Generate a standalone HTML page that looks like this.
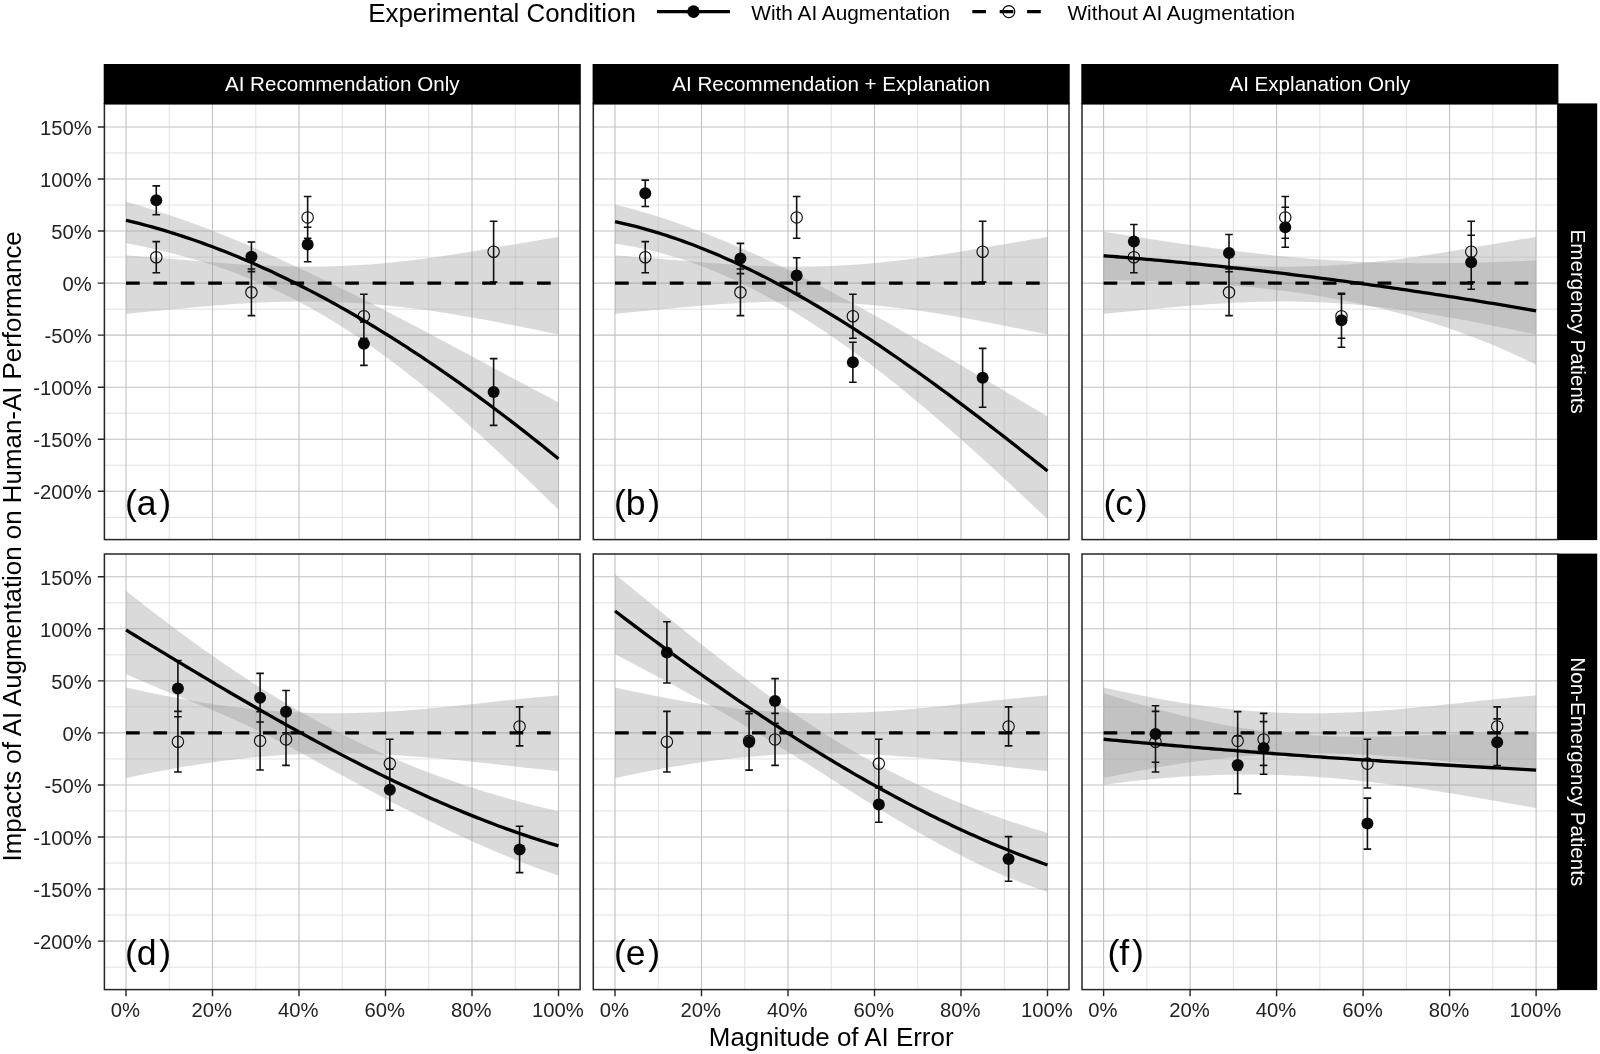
<!DOCTYPE html>
<html lang="en">
<head>
<meta charset="utf-8">
<title>Impacts of AI Augmentation on Human-AI Performance</title>
<style>
html,body{margin:0;padding:0;background:#ffffff;}
body{width:1600px;height:1054px;overflow:hidden;font-family:"Liberation Sans",sans-serif;}
svg{display:block;will-change:transform;font-family:"Liberation Sans",sans-serif;}
svg text{font-family:"Liberation Sans",sans-serif;}
</style>
</head>
<body>
<svg width="1600" height="1054" viewBox="0 0 1600 1054">
<rect x="0" y="0" width="1600" height="1054" fill="#ffffff"/>
<g>
<clipPath id="cpa"><rect x="104.4" y="103.8" width="475.7" height="435.8"/></clipPath>
<rect x="104.4" y="103.8" width="475.7" height="435.8" fill="#ffffff"/>
<path d="M169.25 103.8V539.6M255.75 103.8V539.6M342.25 103.8V539.6M428.75 103.8V539.6M515.25 103.8V539.6M104.4 152.96H580.1M104.4 205.02H580.1M104.4 257.07H580.1M104.4 309.13H580.1M104.4 361.18H580.1M104.4 413.24H580.1M104.4 465.29H580.1M104.4 517.35H580.1" stroke="#dedede" stroke-width="0.9" fill="none"/>
<path d="M126 103.8V539.6M212.5 103.8V539.6M299 103.8V539.6M385.5 103.8V539.6M472 103.8V539.6M558.5 103.8V539.6M104.4 126.94H580.1M104.4 178.99H580.1M104.4 231.05H580.1M104.4 283.1H580.1M104.4 335.16H580.1M104.4 387.21H580.1M104.4 439.26H580.1M104.4 491.32H580.1" stroke="#c2c2c2" stroke-width="1.1" fill="none"/>
<path d="M126 255.53 L130.32 255.78 L134.65 256.05 L138.97 256.33 L143.3 256.63 L147.62 256.95 L151.95 257.27 L156.28 257.6 L160.6 257.95 L164.93 258.3 L169.25 258.66 L173.57 259.02 L177.9 259.38 L182.22 259.75 L186.55 260.12 L190.88 260.48 L195.2 260.85 L199.53 261.21 L203.85 261.57 L208.18 261.92 L212.5 262.27 L216.82 262.61 L221.15 262.95 L225.48 263.27 L229.8 263.58 L234.12 263.88 L238.45 264.17 L242.78 264.45 L247.1 264.72 L251.43 264.97 L255.75 265.2 L260.08 265.42 L264.4 265.63 L268.73 265.81 L273.05 265.98 L277.38 266.13 L281.7 266.26 L286.02 266.38 L290.35 266.47 L294.68 266.55 L299 266.6 L303.33 266.63 L307.65 266.64 L311.98 266.63 L316.3 266.6 L320.62 266.55 L324.95 266.47 L329.27 266.37 L333.6 266.25 L337.93 266.11 L342.25 265.95 L346.58 265.76 L350.9 265.55 L355.23 265.31 L359.55 265.06 L363.88 264.78 L368.2 264.48 L372.52 264.16 L376.85 263.81 L381.18 263.45 L385.5 263.06 L389.82 262.65 L394.15 262.22 L398.48 261.77 L402.8 261.3 L407.12 260.81 L411.45 260.3 L415.78 259.78 L420.1 259.23 L424.43 258.67 L428.75 258.09 L433.07 257.49 L437.4 256.88 L441.73 256.25 L446.05 255.61 L450.38 254.96 L454.7 254.29 L459.03 253.61 L463.35 252.92 L467.68 252.22 L472 251.51 L476.32 250.79 L480.65 250.07 L484.98 249.33 L489.3 248.6 L493.62 247.86 L497.95 247.11 L502.28 246.37 L506.6 245.62 L510.93 244.88 L515.25 244.13 L519.58 243.39 L523.9 242.66 L528.23 241.93 L532.55 241.2 L536.88 240.49 L541.2 239.79 L545.53 239.09 L549.85 238.41 L554.17 237.75 L558.5 237.1 L558.5 334.37 L554.17 333.5 L549.85 332.63 L545.53 331.75 L541.2 330.88 L536.88 330 L532.55 329.12 L528.23 328.25 L523.9 327.38 L519.58 326.51 L515.25 325.64 L510.93 324.79 L506.6 323.93 L502.28 323.09 L497.95 322.25 L493.62 321.42 L489.3 320.6 L484.98 319.79 L480.65 318.99 L476.32 318.2 L472 317.43 L467.68 316.66 L463.35 315.92 L459.03 315.18 L454.7 314.46 L450.38 313.76 L446.05 313.07 L441.73 312.4 L437.4 311.74 L433.07 311.1 L428.75 310.48 L424.43 309.88 L420.1 309.3 L415.78 308.74 L411.45 308.19 L407.12 307.67 L402.8 307.16 L398.48 306.68 L394.15 306.22 L389.82 305.78 L385.5 305.36 L381.18 304.96 L376.85 304.58 L372.52 304.22 L368.2 303.89 L363.88 303.58 L359.55 303.29 L355.23 303.02 L350.9 302.77 L346.58 302.55 L342.25 302.35 L337.93 302.17 L333.6 302.01 L329.27 301.88 L324.95 301.77 L320.62 301.68 L316.3 301.61 L311.98 301.56 L307.65 301.53 L303.33 301.53 L299 301.54 L294.68 301.58 L290.35 301.64 L286.02 301.71 L281.7 301.81 L277.38 301.93 L273.05 302.06 L268.73 302.22 L264.4 302.39 L260.08 302.58 L255.75 302.79 L251.43 303.01 L247.1 303.25 L242.78 303.51 L238.45 303.78 L234.12 304.06 L229.8 304.36 L225.48 304.68 L221.15 305 L216.82 305.34 L212.5 305.69 L208.18 306.05 L203.85 306.42 L199.53 306.8 L195.2 307.19 L190.88 307.59 L186.55 307.99 L182.22 308.4 L177.9 308.81 L173.57 309.23 L169.25 309.65 L164.93 310.07 L160.6 310.49 L156.28 310.92 L151.95 311.34 L147.62 311.76 L143.3 312.18 L138.97 312.6 L134.65 313.01 L130.32 313.41 L126 313.81Z" fill="#999999" fill-opacity="0.36"/>
<path d="M126 201.8 L130.32 203.01 L134.65 204.25 L138.97 205.52 L143.3 206.81 L147.62 208.13 L151.95 209.48 L156.28 210.84 L160.6 212.24 L164.93 213.66 L169.25 215.1 L173.57 216.57 L177.9 218.06 L182.22 219.57 L186.55 221.11 L190.88 222.66 L195.2 224.24 L199.53 225.85 L203.85 227.47 L208.18 229.12 L212.5 230.78 L216.82 232.47 L221.15 234.17 L225.48 235.9 L229.8 237.65 L234.12 239.41 L238.45 241.19 L242.78 243 L247.1 244.82 L251.43 246.65 L255.75 248.51 L260.08 250.38 L264.4 252.27 L268.73 254.18 L273.05 256.1 L277.38 258.04 L281.7 259.99 L286.02 261.96 L290.35 263.95 L294.68 265.95 L299 267.96 L303.33 269.99 L307.65 272.03 L311.98 274.08 L316.3 276.15 L320.62 278.23 L324.95 280.32 L329.27 282.42 L333.6 284.54 L337.93 286.66 L342.25 288.8 L346.58 290.95 L350.9 293.11 L355.23 295.27 L359.55 297.45 L363.88 299.64 L368.2 301.84 L372.52 304.04 L376.85 306.25 L381.18 308.48 L385.5 310.7 L389.82 312.94 L394.15 315.18 L398.48 317.43 L402.8 319.69 L407.12 321.95 L411.45 324.22 L415.78 326.49 L420.1 328.77 L424.43 331.06 L428.75 333.34 L433.07 335.64 L437.4 337.93 L441.73 340.23 L446.05 342.53 L450.38 344.84 L454.7 347.14 L459.03 349.45 L463.35 351.77 L467.68 354.08 L472 356.39 L476.32 358.71 L480.65 361.02 L484.98 363.34 L489.3 365.65 L493.62 367.97 L497.95 370.28 L502.28 372.59 L506.6 374.9 L510.93 377.21 L515.25 379.52 L519.58 381.82 L523.9 384.12 L528.23 386.42 L532.55 388.72 L536.88 391.01 L541.2 393.29 L545.53 395.58 L549.85 397.85 L554.17 400.13 L558.5 402.39 L558.5 509.55 L554.17 505.34 L549.85 501.13 L545.53 496.92 L541.2 492.73 L536.88 488.55 L532.55 484.38 L528.23 480.22 L523.9 476.08 L519.58 471.95 L515.25 467.83 L510.93 463.73 L506.6 459.66 L502.28 455.59 L497.95 451.55 L493.62 447.53 L489.3 443.53 L484.98 439.56 L480.65 435.61 L476.32 431.68 L472 427.78 L467.68 423.9 L463.35 420.06 L459.03 416.24 L454.7 412.45 L450.38 408.69 L446.05 404.96 L441.73 401.27 L437.4 397.61 L433.07 393.98 L428.75 390.39 L424.43 386.84 L420.1 383.32 L415.78 379.84 L411.45 376.4 L407.12 373 L402.8 369.63 L398.48 366.31 L394.15 363.02 L389.82 359.78 L385.5 356.57 L381.18 353.41 L376.85 350.29 L372.52 347.22 L368.2 344.18 L363.88 341.19 L359.55 338.25 L355.23 335.34 L350.9 332.49 L346.58 329.68 L342.25 326.91 L337.93 324.2 L333.6 321.53 L329.27 318.9 L324.95 316.33 L320.62 313.79 L316.3 311.31 L311.98 308.87 L307.65 306.48 L303.33 304.13 L299 301.83 L294.68 299.57 L290.35 297.36 L286.02 295.2 L281.7 293.08 L277.38 291 L273.05 288.97 L268.73 286.98 L264.4 285.04 L260.08 283.15 L255.75 281.3 L251.43 279.49 L247.1 277.72 L242.78 276 L238.45 274.32 L234.12 272.68 L229.8 271.09 L225.48 269.53 L221.15 268.01 L216.82 266.53 L212.5 265.09 L208.18 263.68 L203.85 262.31 L199.53 260.98 L195.2 259.68 L190.88 258.42 L186.55 257.19 L182.22 255.99 L177.9 254.82 L173.57 253.69 L169.25 252.58 L164.93 251.51 L160.6 250.46 L156.28 249.44 L151.95 248.46 L147.62 247.49 L143.3 246.56 L138.97 245.65 L134.65 244.76 L130.32 243.9 L126 243.06Z" fill="#999999" fill-opacity="0.36"/>
<path d="M156.28 241.6V272.8M152.47 241.6H160.08M152.47 272.8H160.08M251.43 269V315.6M247.62 269H255.23M247.62 315.6H255.23M307.65 196.5V238.3M303.85 196.5H311.45M303.85 238.3H311.45M363.88 294.2V338.2M360.07 294.2H367.68M360.07 338.2H367.68M493.62 221.3V282.1M489.82 221.3H497.43M489.82 282.1H497.43M156.28 185.9V214.7M152.47 185.9H160.08M152.47 214.7H160.08M251.43 242V271.6M247.62 242H255.23M247.62 271.6H255.23M307.65 227.2V261.8M303.85 227.2H311.45M303.85 261.8H311.45M363.88 322.2V365.4M360.07 322.2H367.68M360.07 365.4H367.68M493.62 358.6V425.4M489.82 358.6H497.43M489.82 425.4H497.43" stroke="#111" stroke-width="1.6" fill="none"/>
<circle cx="156.28" cy="257.2" r="5.7" fill="none" stroke="#111" stroke-width="1.15"/><circle cx="251.43" cy="292.3" r="5.7" fill="none" stroke="#111" stroke-width="1.15"/><circle cx="307.65" cy="217.4" r="5.7" fill="none" stroke="#111" stroke-width="1.15"/><circle cx="363.88" cy="316.2" r="5.7" fill="none" stroke="#111" stroke-width="1.15"/><circle cx="493.62" cy="251.7" r="5.7" fill="none" stroke="#111" stroke-width="1.15"/><circle cx="156.28" cy="200.3" r="6.0" fill="#0a0a0a"/><circle cx="251.43" cy="256.8" r="6.0" fill="#0a0a0a"/><circle cx="307.65" cy="244.5" r="6.0" fill="#0a0a0a"/><circle cx="363.88" cy="343.8" r="6.0" fill="#0a0a0a"/><circle cx="493.62" cy="392" r="6.0" fill="#0a0a0a"/>
<path d="M126 283.1H558.5" stroke="#000" stroke-width="3.3" stroke-dasharray="13.7 13.7" fill="none"/>
<path d="M126 220.26 L130.32 221.3 L134.65 222.36 L138.97 223.46 L143.3 224.59 L147.62 225.75 L151.95 226.94 L156.28 228.16 L160.6 229.42 L164.93 230.7 L169.25 232.02 L173.57 233.36 L177.9 234.73 L182.22 236.14 L186.55 237.57 L190.88 239.04 L195.2 240.53 L199.53 242.06 L203.85 243.61 L208.18 245.19 L212.5 246.81 L216.82 248.45 L221.15 250.12 L225.48 251.82 L229.8 253.54 L234.12 255.3 L238.45 257.08 L242.78 258.9 L247.1 260.74 L251.43 262.61 L255.75 264.5 L260.08 266.43 L264.4 268.38 L268.73 270.36 L273.05 272.37 L277.38 274.4 L281.7 276.46 L286.02 278.55 L290.35 280.67 L294.68 282.81 L299 284.98 L303.33 287.17 L307.65 289.39 L311.98 291.64 L316.3 293.91 L320.62 296.21 L324.95 298.54 L329.27 300.89 L333.6 303.27 L337.93 305.67 L342.25 308.1 L346.58 310.55 L350.9 313.03 L355.23 315.53 L359.55 318.05 L363.88 320.61 L368.2 323.18 L372.52 325.78 L376.85 328.41 L381.18 331.06 L385.5 333.73 L389.82 336.43 L394.15 339.15 L398.48 341.89 L402.8 344.66 L407.12 347.45 L411.45 350.26 L415.78 353.1 L420.1 355.96 L424.43 358.84 L428.75 361.75 L433.07 364.68 L437.4 367.63 L441.73 370.6 L446.05 373.6 L450.38 376.61 L454.7 379.65 L459.03 382.71 L463.35 385.79 L467.68 388.9 L472 392.02 L476.32 395.17 L480.65 398.34 L484.98 401.53 L489.3 404.74 L493.62 407.97 L497.95 411.22 L502.28 414.49 L506.6 417.78 L510.93 421.09 L515.25 424.42 L519.58 427.77 L523.9 431.15 L528.23 434.54 L532.55 437.95 L536.88 441.38 L541.2 444.83 L545.53 448.3 L549.85 451.78 L554.17 455.29 L558.5 458.82" stroke="#000" stroke-width="3.3" fill="none" stroke-linejoin="round"/>
<rect x="104.4" y="103.8" width="475.7" height="435.8" fill="none" stroke="#262626" stroke-width="1.5"/>
<text x="148" y="515.3" font-size="35.6" fill="#000" text-anchor="middle">(a<tspan dx="2.7">)</tspan></text>
</g>
<g>
<clipPath id="cpb"><rect x="593.3" y="103.8" width="475.7" height="435.8"/></clipPath>
<rect x="593.3" y="103.8" width="475.7" height="435.8" fill="#ffffff"/>
<path d="M658.25 103.8V539.6M744.75 103.8V539.6M831.25 103.8V539.6M917.75 103.8V539.6M1004.25 103.8V539.6M593.3 152.96H1069M593.3 205.02H1069M593.3 257.07H1069M593.3 309.13H1069M593.3 361.18H1069M593.3 413.24H1069M593.3 465.29H1069M593.3 517.35H1069" stroke="#dedede" stroke-width="0.9" fill="none"/>
<path d="M615 103.8V539.6M701.5 103.8V539.6M788 103.8V539.6M874.5 103.8V539.6M961 103.8V539.6M1047.5 103.8V539.6M593.3 126.94H1069M593.3 178.99H1069M593.3 231.05H1069M593.3 283.1H1069M593.3 335.16H1069M593.3 387.21H1069M593.3 439.26H1069M593.3 491.32H1069" stroke="#c2c2c2" stroke-width="1.1" fill="none"/>
<path d="M615 255.53 L619.33 255.78 L623.65 256.05 L627.98 256.33 L632.3 256.63 L636.62 256.95 L640.95 257.27 L645.27 257.6 L649.6 257.95 L653.92 258.3 L658.25 258.66 L662.58 259.02 L666.9 259.38 L671.23 259.75 L675.55 260.12 L679.88 260.48 L684.2 260.85 L688.52 261.21 L692.85 261.57 L697.17 261.92 L701.5 262.27 L705.83 262.61 L710.15 262.95 L714.48 263.27 L718.8 263.58 L723.12 263.88 L727.45 264.17 L731.77 264.45 L736.1 264.72 L740.42 264.97 L744.75 265.2 L749.08 265.42 L753.4 265.63 L757.73 265.81 L762.05 265.98 L766.38 266.13 L770.7 266.26 L775.02 266.38 L779.35 266.47 L783.67 266.55 L788 266.6 L792.33 266.63 L796.65 266.64 L800.98 266.63 L805.3 266.6 L809.62 266.55 L813.95 266.47 L818.27 266.37 L822.6 266.25 L826.92 266.11 L831.25 265.95 L835.58 265.76 L839.9 265.55 L844.23 265.31 L848.55 265.06 L852.88 264.78 L857.2 264.48 L861.52 264.16 L865.85 263.81 L870.17 263.45 L874.5 263.06 L878.83 262.65 L883.15 262.22 L887.48 261.77 L891.8 261.3 L896.12 260.81 L900.45 260.3 L904.78 259.78 L909.1 259.23 L913.42 258.67 L917.75 258.09 L922.08 257.49 L926.4 256.88 L930.73 256.25 L935.05 255.61 L939.38 254.96 L943.7 254.29 L948.03 253.61 L952.35 252.92 L956.67 252.22 L961 251.51 L965.33 250.79 L969.65 250.07 L973.98 249.33 L978.3 248.6 L982.62 247.86 L986.95 247.11 L991.28 246.37 L995.6 245.62 L999.92 244.88 L1004.25 244.13 L1008.58 243.39 L1012.9 242.66 L1017.23 241.93 L1021.55 241.2 L1025.88 240.49 L1030.2 239.79 L1034.53 239.09 L1038.85 238.41 L1043.17 237.75 L1047.5 237.1 L1047.5 334.37 L1043.17 333.5 L1038.85 332.63 L1034.53 331.75 L1030.2 330.88 L1025.88 330 L1021.55 329.12 L1017.23 328.25 L1012.9 327.38 L1008.58 326.51 L1004.25 325.64 L999.92 324.79 L995.6 323.93 L991.28 323.09 L986.95 322.25 L982.62 321.42 L978.3 320.6 L973.98 319.79 L969.65 318.99 L965.33 318.2 L961 317.43 L956.67 316.66 L952.35 315.92 L948.03 315.18 L943.7 314.46 L939.38 313.76 L935.05 313.07 L930.73 312.4 L926.4 311.74 L922.08 311.1 L917.75 310.48 L913.42 309.88 L909.1 309.3 L904.78 308.74 L900.45 308.19 L896.12 307.67 L891.8 307.16 L887.48 306.68 L883.15 306.22 L878.83 305.78 L874.5 305.36 L870.17 304.96 L865.85 304.58 L861.52 304.22 L857.2 303.89 L852.88 303.58 L848.55 303.29 L844.23 303.02 L839.9 302.77 L835.58 302.55 L831.25 302.35 L826.92 302.17 L822.6 302.01 L818.27 301.88 L813.95 301.77 L809.62 301.68 L805.3 301.61 L800.98 301.56 L796.65 301.53 L792.33 301.53 L788 301.54 L783.67 301.58 L779.35 301.64 L775.02 301.71 L770.7 301.81 L766.38 301.93 L762.05 302.06 L757.73 302.22 L753.4 302.39 L749.08 302.58 L744.75 302.79 L740.42 303.01 L736.1 303.25 L731.77 303.51 L727.45 303.78 L723.12 304.06 L718.8 304.36 L714.48 304.68 L710.15 305 L705.83 305.34 L701.5 305.69 L697.17 306.05 L692.85 306.42 L688.52 306.8 L684.2 307.19 L679.88 307.59 L675.55 307.99 L671.23 308.4 L666.9 308.81 L662.58 309.23 L658.25 309.65 L653.92 310.07 L649.6 310.49 L645.27 310.92 L640.95 311.34 L636.62 311.76 L632.3 312.18 L627.98 312.6 L623.65 313.01 L619.33 313.41 L615 313.81Z" fill="#999999" fill-opacity="0.36"/>
<path d="M615 204.57 L619.33 205.63 L623.65 206.74 L627.98 207.87 L632.3 209.04 L636.62 210.24 L640.95 211.47 L645.27 212.74 L649.6 214.03 L653.92 215.36 L658.25 216.72 L662.58 218.11 L666.9 219.53 L671.23 220.98 L675.55 222.45 L679.88 223.96 L684.2 225.5 L688.52 227.06 L692.85 228.65 L697.17 230.27 L701.5 231.91 L705.83 233.58 L710.15 235.28 L714.48 237.01 L718.8 238.75 L723.12 240.53 L727.45 242.33 L731.77 244.15 L736.1 245.99 L740.42 247.86 L744.75 249.76 L749.08 251.67 L753.4 253.61 L757.73 255.57 L762.05 257.55 L766.38 259.55 L770.7 261.58 L775.02 263.62 L779.35 265.68 L783.67 267.77 L788 269.87 L792.33 271.99 L796.65 274.13 L800.98 276.28 L805.3 278.46 L809.62 280.65 L813.95 282.86 L818.27 285.09 L822.6 287.33 L826.92 289.58 L831.25 291.86 L835.58 294.14 L839.9 296.45 L844.23 298.76 L848.55 301.09 L852.88 303.43 L857.2 305.79 L861.52 308.16 L865.85 310.54 L870.17 312.93 L874.5 315.34 L878.83 317.75 L883.15 320.18 L887.48 322.62 L891.8 325.06 L896.12 327.52 L900.45 329.98 L904.78 332.46 L909.1 334.94 L913.42 337.43 L917.75 339.93 L922.08 342.43 L926.4 344.94 L930.73 347.46 L935.05 349.98 L939.38 352.51 L943.7 355.05 L948.03 357.59 L952.35 360.13 L956.67 362.68 L961 365.23 L965.33 367.79 L969.65 370.34 L973.98 372.91 L978.3 375.47 L982.62 378.03 L986.95 380.6 L991.28 383.17 L995.6 385.73 L999.92 388.3 L1004.25 390.87 L1008.58 393.44 L1012.9 396 L1017.23 398.57 L1021.55 401.13 L1025.88 403.69 L1030.2 406.25 L1034.53 408.81 L1038.85 411.36 L1043.17 413.91 L1047.5 416.45 L1047.5 519.16 L1043.17 515.06 L1038.85 510.96 L1034.53 506.88 L1030.2 502.8 L1025.88 498.73 L1021.55 494.68 L1017.23 490.63 L1012.9 486.6 L1008.58 482.58 L1004.25 478.57 L999.92 474.57 L995.6 470.59 L991.28 466.62 L986.95 462.67 L982.62 458.74 L978.3 454.82 L973.98 450.92 L969.65 447.03 L965.33 443.17 L961 439.32 L956.67 435.49 L952.35 431.69 L948.03 427.9 L943.7 424.14 L939.38 420.4 L935.05 416.68 L930.73 412.99 L926.4 409.32 L922.08 405.67 L917.75 402.05 L913.42 398.46 L909.1 394.89 L904.78 391.35 L900.45 387.84 L896.12 384.35 L891.8 380.9 L887.48 377.47 L883.15 374.08 L878.83 370.72 L874.5 367.38 L870.17 364.09 L865.85 360.82 L861.52 357.59 L857.2 354.39 L852.88 351.23 L848.55 348.1 L844.23 345.01 L839.9 341.95 L835.58 338.94 L831.25 335.96 L826.92 333.02 L822.6 330.12 L818.27 327.25 L813.95 324.43 L809.62 321.65 L805.3 318.91 L800.98 316.21 L796.65 313.55 L792.33 310.93 L788 308.35 L783.67 305.82 L779.35 303.33 L775.02 300.88 L770.7 298.48 L766.38 296.11 L762.05 293.8 L757.73 291.52 L753.4 289.3 L749.08 287.11 L744.75 284.98 L740.42 282.88 L736.1 280.84 L731.77 278.84 L727.45 276.89 L723.12 274.98 L718.8 273.12 L714.48 271.32 L710.15 269.55 L705.83 267.84 L701.5 266.18 L697.17 264.56 L692.85 263 L688.52 261.48 L684.2 260.02 L679.88 258.61 L675.55 257.24 L671.23 255.93 L666.9 254.68 L662.58 253.47 L658.25 252.31 L653.92 251.21 L649.6 250.17 L645.27 249.17 L640.95 248.23 L636.62 247.34 L632.3 246.51 L627.98 245.74 L623.65 245.02 L619.33 244.35 L615 243.74Z" fill="#999999" fill-opacity="0.36"/>
<path d="M645.27 241.6V272.8M641.48 241.6H649.07M641.48 272.8H649.07M740.42 269V315.6M736.62 269H744.22M736.62 315.6H744.22M796.65 196.5V238.3M792.85 196.5H800.45M792.85 238.3H800.45M852.88 294.2V338.2M849.08 294.2H856.67M849.08 338.2H856.67M982.62 221.3V282.1M978.83 221.3H986.42M978.83 282.1H986.42M645.27 180.1V206.5M641.48 180.1H649.07M641.48 206.5H649.07M740.42 243.4V273.6M736.62 243.4H744.22M736.62 273.6H744.22M796.65 257.8V293.4M792.85 257.8H800.45M792.85 293.4H800.45M852.88 342.2V382.2M849.08 342.2H856.67M849.08 382.2H856.67M982.62 348.4V407.2M978.83 348.4H986.42M978.83 407.2H986.42" stroke="#111" stroke-width="1.6" fill="none"/>
<circle cx="645.27" cy="257.2" r="5.7" fill="none" stroke="#111" stroke-width="1.15"/><circle cx="740.42" cy="292.3" r="5.7" fill="none" stroke="#111" stroke-width="1.15"/><circle cx="796.65" cy="217.4" r="5.7" fill="none" stroke="#111" stroke-width="1.15"/><circle cx="852.88" cy="316.2" r="5.7" fill="none" stroke="#111" stroke-width="1.15"/><circle cx="982.62" cy="251.7" r="5.7" fill="none" stroke="#111" stroke-width="1.15"/><circle cx="645.27" cy="193.3" r="6.0" fill="#0a0a0a"/><circle cx="740.42" cy="258.5" r="6.0" fill="#0a0a0a"/><circle cx="796.65" cy="275.6" r="6.0" fill="#0a0a0a"/><circle cx="852.88" cy="362.2" r="6.0" fill="#0a0a0a"/><circle cx="982.62" cy="377.8" r="6.0" fill="#0a0a0a"/>
<path d="M615 283.1H1047.5" stroke="#000" stroke-width="3.3" stroke-dasharray="13.7 13.7" fill="none"/>
<path d="M615 221.61 L619.33 222.55 L623.65 223.52 L627.98 224.54 L632.3 225.61 L636.62 226.71 L640.95 227.86 L645.27 229.05 L649.6 230.29 L653.92 231.56 L658.25 232.87 L662.58 234.23 L666.9 235.62 L671.23 237.06 L675.55 238.53 L679.88 240.05 L684.2 241.6 L688.52 243.19 L692.85 244.82 L697.17 246.48 L701.5 248.18 L705.83 249.92 L710.15 251.7 L714.48 253.51 L718.8 255.35 L723.12 257.24 L727.45 259.15 L731.77 261.1 L736.1 263.09 L740.42 265.11 L744.75 267.16 L749.08 269.24 L753.4 271.36 L757.73 273.51 L762.05 275.69 L766.38 277.9 L770.7 280.15 L775.02 282.42 L779.35 284.73 L783.67 287.06 L788 289.42 L792.33 291.82 L796.65 294.24 L800.98 296.69 L805.3 299.17 L809.62 301.67 L813.95 304.21 L818.27 306.77 L822.6 309.35 L826.92 311.97 L831.25 314.6 L835.58 317.27 L839.9 319.96 L844.23 322.67 L848.55 325.41 L852.88 328.17 L857.2 330.95 L861.52 333.76 L865.85 336.59 L870.17 339.45 L874.5 342.32 L878.83 345.22 L883.15 348.13 L887.48 351.07 L891.8 354.03 L896.12 357.01 L900.45 360.01 L904.78 363.03 L909.1 366.06 L913.42 369.12 L917.75 372.19 L922.08 375.28 L926.4 378.39 L930.73 381.52 L935.05 384.66 L939.38 387.82 L943.7 391 L948.03 394.19 L952.35 397.39 L956.67 400.61 L961 403.85 L965.33 407.09 L969.65 410.36 L973.98 413.63 L978.3 416.92 L982.62 420.22 L986.95 423.54 L991.28 426.86 L995.6 430.2 L999.92 433.54 L1004.25 436.9 L1008.58 440.27 L1012.9 443.65 L1017.23 447.03 L1021.55 450.43 L1025.88 453.84 L1030.2 457.25 L1034.53 460.67 L1038.85 464.1 L1043.17 467.54 L1047.5 470.98" stroke="#000" stroke-width="3.3" fill="none" stroke-linejoin="round"/>
<rect x="593.3" y="103.8" width="475.7" height="435.8" fill="none" stroke="#262626" stroke-width="1.5"/>
<text x="637" y="515.3" font-size="35.6" fill="#000" text-anchor="middle">(b<tspan dx="2.7">)</tspan></text>
</g>
<g>
<clipPath id="cpc"><rect x="1082" y="103.8" width="475.7" height="435.8"/></clipPath>
<rect x="1082" y="103.8" width="475.7" height="435.8" fill="#ffffff"/>
<path d="M1146.85 103.8V539.6M1233.35 103.8V539.6M1319.85 103.8V539.6M1406.35 103.8V539.6M1492.85 103.8V539.6M1082 152.96H1557.7M1082 205.02H1557.7M1082 257.07H1557.7M1082 309.13H1557.7M1082 361.18H1557.7M1082 413.24H1557.7M1082 465.29H1557.7M1082 517.35H1557.7" stroke="#dedede" stroke-width="0.9" fill="none"/>
<path d="M1103.6 103.8V539.6M1190.1 103.8V539.6M1276.6 103.8V539.6M1363.1 103.8V539.6M1449.6 103.8V539.6M1536.1 103.8V539.6M1082 126.94H1557.7M1082 178.99H1557.7M1082 231.05H1557.7M1082 283.1H1557.7M1082 335.16H1557.7M1082 387.21H1557.7M1082 439.26H1557.7M1082 491.32H1557.7" stroke="#c2c2c2" stroke-width="1.1" fill="none"/>
<path d="M1103.6 255.53 L1107.92 255.78 L1112.25 256.05 L1116.57 256.33 L1120.9 256.63 L1125.22 256.95 L1129.55 257.27 L1133.88 257.6 L1138.2 257.95 L1142.52 258.3 L1146.85 258.66 L1151.17 259.02 L1155.5 259.38 L1159.82 259.75 L1164.15 260.12 L1168.47 260.48 L1172.8 260.85 L1177.12 261.21 L1181.45 261.57 L1185.77 261.92 L1190.1 262.27 L1194.42 262.61 L1198.75 262.95 L1203.07 263.27 L1207.4 263.58 L1211.72 263.88 L1216.05 264.17 L1220.38 264.45 L1224.7 264.72 L1229.02 264.97 L1233.35 265.2 L1237.67 265.42 L1242 265.63 L1246.32 265.81 L1250.65 265.98 L1254.97 266.13 L1259.3 266.26 L1263.62 266.38 L1267.95 266.47 L1272.27 266.55 L1276.6 266.6 L1280.92 266.63 L1285.25 266.64 L1289.57 266.63 L1293.9 266.6 L1298.22 266.55 L1302.55 266.47 L1306.88 266.37 L1311.2 266.25 L1315.52 266.11 L1319.85 265.95 L1324.17 265.76 L1328.5 265.55 L1332.82 265.31 L1337.15 265.06 L1341.47 264.78 L1345.8 264.48 L1350.12 264.16 L1354.45 263.81 L1358.77 263.45 L1363.1 263.06 L1367.42 262.65 L1371.75 262.22 L1376.07 261.77 L1380.4 261.3 L1384.72 260.81 L1389.05 260.3 L1393.38 259.78 L1397.7 259.23 L1402.02 258.67 L1406.35 258.09 L1410.67 257.49 L1415 256.88 L1419.32 256.25 L1423.65 255.61 L1427.97 254.96 L1432.3 254.29 L1436.62 253.61 L1440.95 252.92 L1445.27 252.22 L1449.6 251.51 L1453.92 250.79 L1458.25 250.07 L1462.57 249.33 L1466.9 248.6 L1471.22 247.86 L1475.55 247.11 L1479.88 246.37 L1484.2 245.62 L1488.52 244.88 L1492.85 244.13 L1497.17 243.39 L1501.5 242.66 L1505.82 241.93 L1510.15 241.2 L1514.47 240.49 L1518.8 239.79 L1523.12 239.09 L1527.45 238.41 L1531.77 237.75 L1536.1 237.1 L1536.1 334.37 L1531.77 333.5 L1527.45 332.63 L1523.12 331.75 L1518.8 330.88 L1514.47 330 L1510.15 329.12 L1505.82 328.25 L1501.5 327.38 L1497.17 326.51 L1492.85 325.64 L1488.52 324.79 L1484.2 323.93 L1479.88 323.09 L1475.55 322.25 L1471.22 321.42 L1466.9 320.6 L1462.57 319.79 L1458.25 318.99 L1453.92 318.2 L1449.6 317.43 L1445.27 316.66 L1440.95 315.92 L1436.62 315.18 L1432.3 314.46 L1427.97 313.76 L1423.65 313.07 L1419.32 312.4 L1415 311.74 L1410.67 311.1 L1406.35 310.48 L1402.02 309.88 L1397.7 309.3 L1393.38 308.74 L1389.05 308.19 L1384.72 307.67 L1380.4 307.16 L1376.07 306.68 L1371.75 306.22 L1367.42 305.78 L1363.1 305.36 L1358.77 304.96 L1354.45 304.58 L1350.12 304.22 L1345.8 303.89 L1341.47 303.58 L1337.15 303.29 L1332.82 303.02 L1328.5 302.77 L1324.17 302.55 L1319.85 302.35 L1315.52 302.17 L1311.2 302.01 L1306.88 301.88 L1302.55 301.77 L1298.22 301.68 L1293.9 301.61 L1289.57 301.56 L1285.25 301.53 L1280.92 301.53 L1276.6 301.54 L1272.27 301.58 L1267.95 301.64 L1263.62 301.71 L1259.3 301.81 L1254.97 301.93 L1250.65 302.06 L1246.32 302.22 L1242 302.39 L1237.67 302.58 L1233.35 302.79 L1229.02 303.01 L1224.7 303.25 L1220.38 303.51 L1216.05 303.78 L1211.72 304.06 L1207.4 304.36 L1203.07 304.68 L1198.75 305 L1194.42 305.34 L1190.1 305.69 L1185.77 306.05 L1181.45 306.42 L1177.12 306.8 L1172.8 307.19 L1168.47 307.59 L1164.15 307.99 L1159.82 308.4 L1155.5 308.81 L1151.17 309.23 L1146.85 309.65 L1142.52 310.07 L1138.2 310.49 L1133.88 310.92 L1129.55 311.34 L1125.22 311.76 L1120.9 312.18 L1116.57 312.6 L1112.25 313.01 L1107.92 313.41 L1103.6 313.81Z" fill="#999999" fill-opacity="0.36"/>
<path d="M1103.6 231.69 L1107.92 232.38 L1112.25 233.07 L1116.57 233.76 L1120.9 234.45 L1125.22 235.13 L1129.55 235.81 L1133.88 236.49 L1138.2 237.17 L1142.52 237.84 L1146.85 238.51 L1151.17 239.18 L1155.5 239.84 L1159.82 240.5 L1164.15 241.15 L1168.47 241.8 L1172.8 242.44 L1177.12 243.08 L1181.45 243.71 L1185.77 244.34 L1190.1 244.96 L1194.42 245.57 L1198.75 246.18 L1203.07 246.78 L1207.4 247.37 L1211.72 247.96 L1216.05 248.54 L1220.38 249.11 L1224.7 249.67 L1229.02 250.22 L1233.35 250.77 L1237.67 251.31 L1242 251.83 L1246.32 252.35 L1250.65 252.86 L1254.97 253.36 L1259.3 253.85 L1263.62 254.32 L1267.95 254.79 L1272.27 255.25 L1276.6 255.69 L1280.92 256.12 L1285.25 256.55 L1289.57 256.95 L1293.9 257.35 L1298.22 257.74 L1302.55 258.11 L1306.88 258.47 L1311.2 258.81 L1315.52 259.15 L1319.85 259.46 L1324.17 259.77 L1328.5 260.06 L1332.82 260.34 L1337.15 260.6 L1341.47 260.85 L1345.8 261.09 L1350.12 261.31 L1354.45 261.52 L1358.77 261.72 L1363.1 261.9 L1367.42 262.07 L1371.75 262.23 L1376.07 262.38 L1380.4 262.51 L1384.72 262.63 L1389.05 262.74 L1393.38 262.84 L1397.7 262.93 L1402.02 263.01 L1406.35 263.07 L1410.67 263.12 L1415 263.16 L1419.32 263.19 L1423.65 263.21 L1427.97 263.22 L1432.3 263.22 L1436.62 263.21 L1440.95 263.19 L1445.27 263.15 L1449.6 263.11 L1453.92 263.06 L1458.25 263 L1462.57 262.93 L1466.9 262.84 L1471.22 262.75 L1475.55 262.65 L1479.88 262.55 L1484.2 262.43 L1488.52 262.3 L1492.85 262.17 L1497.17 262.02 L1501.5 261.87 L1505.82 261.71 L1510.15 261.54 L1514.47 261.37 L1518.8 261.18 L1523.12 260.99 L1527.45 260.79 L1531.77 260.58 L1536.1 260.37 L1536.1 364.71 L1531.77 362.58 L1527.45 360.49 L1523.12 358.43 L1518.8 356.41 L1514.47 354.42 L1510.15 352.47 L1505.82 350.55 L1501.5 348.66 L1497.17 346.81 L1492.85 344.99 L1488.52 343.2 L1484.2 341.45 L1479.88 339.73 L1475.55 338.04 L1471.22 336.39 L1466.9 334.76 L1462.57 333.17 L1458.25 331.61 L1453.92 330.07 L1449.6 328.57 L1445.27 327.1 L1440.95 325.66 L1436.62 324.25 L1432.3 322.86 L1427.97 321.51 L1423.65 320.18 L1419.32 318.89 L1415 317.62 L1410.67 316.37 L1406.35 315.16 L1402.02 313.97 L1397.7 312.81 L1393.38 311.68 L1389.05 310.57 L1384.72 309.49 L1380.4 308.43 L1376.07 307.4 L1371.75 306.39 L1367.42 305.41 L1363.1 304.45 L1358.77 303.52 L1354.45 302.61 L1350.12 301.72 L1345.8 300.86 L1341.47 300.01 L1337.15 299.2 L1332.82 298.4 L1328.5 297.63 L1324.17 296.87 L1319.85 296.14 L1315.52 295.43 L1311.2 294.74 L1306.88 294.07 L1302.55 293.42 L1298.22 292.79 L1293.9 292.18 L1289.57 291.59 L1285.25 291.02 L1280.92 290.47 L1276.6 289.93 L1272.27 289.41 L1267.95 288.91 L1263.62 288.43 L1259.3 287.97 L1254.97 287.52 L1250.65 287.09 L1246.32 286.67 L1242 286.27 L1237.67 285.89 L1233.35 285.52 L1229.02 285.16 L1224.7 284.83 L1220.38 284.5 L1216.05 284.19 L1211.72 283.89 L1207.4 283.61 L1203.07 283.34 L1198.75 283.08 L1194.42 282.83 L1190.1 282.6 L1185.77 282.38 L1181.45 282.17 L1177.12 281.97 L1172.8 281.79 L1168.47 281.61 L1164.15 281.44 L1159.82 281.29 L1155.5 281.14 L1151.17 281 L1146.85 280.88 L1142.52 280.76 L1138.2 280.65 L1133.88 280.55 L1129.55 280.45 L1125.22 280.37 L1120.9 280.29 L1116.57 280.22 L1112.25 280.16 L1107.92 280.1 L1103.6 280.05Z" fill="#999999" fill-opacity="0.36"/>
<path d="M1133.88 241.6V272.8M1130.08 241.6H1137.67M1130.08 272.8H1137.67M1229.02 269V315.6M1225.22 269H1232.82M1225.22 315.6H1232.82M1285.25 196.5V238.3M1281.45 196.5H1289.05M1281.45 238.3H1289.05M1341.47 294.2V338.2M1337.67 294.2H1345.27M1337.67 338.2H1345.27M1471.22 221.3V282.1M1467.42 221.3H1475.02M1467.42 282.1H1475.02M1133.88 224.5V258.7M1130.08 224.5H1137.67M1130.08 258.7H1137.67M1229.02 234.5V271.7M1225.22 234.5H1232.82M1225.22 271.7H1232.82M1285.25 207.3V247.3M1281.45 207.3H1289.05M1281.45 247.3H1289.05M1341.47 293.3V347.3M1337.67 293.3H1345.27M1337.67 347.3H1345.27M1471.22 235.3V289.3M1467.42 235.3H1475.02M1467.42 289.3H1475.02" stroke="#111" stroke-width="1.6" fill="none"/>
<circle cx="1133.88" cy="257.2" r="5.7" fill="none" stroke="#111" stroke-width="1.15"/><circle cx="1229.02" cy="292.3" r="5.7" fill="none" stroke="#111" stroke-width="1.15"/><circle cx="1285.25" cy="217.4" r="5.7" fill="none" stroke="#111" stroke-width="1.15"/><circle cx="1341.47" cy="316.2" r="5.7" fill="none" stroke="#111" stroke-width="1.15"/><circle cx="1471.22" cy="251.7" r="5.7" fill="none" stroke="#111" stroke-width="1.15"/><circle cx="1133.88" cy="241.6" r="6.0" fill="#0a0a0a"/><circle cx="1229.02" cy="253.1" r="6.0" fill="#0a0a0a"/><circle cx="1285.25" cy="227.3" r="6.0" fill="#0a0a0a"/><circle cx="1341.47" cy="320.3" r="6.0" fill="#0a0a0a"/><circle cx="1471.22" cy="262.3" r="6.0" fill="#0a0a0a"/>
<path d="M1103.6 283.1H1536.1" stroke="#000" stroke-width="3.3" stroke-dasharray="13.7 13.7" fill="none"/>
<path d="M1103.6 255.75 L1107.92 256.08 L1112.25 256.42 L1116.57 256.76 L1120.9 257.11 L1125.22 257.46 L1129.55 257.82 L1133.88 258.18 L1138.2 258.55 L1142.52 258.92 L1146.85 259.29 L1151.17 259.68 L1155.5 260.06 L1159.82 260.45 L1164.15 260.84 L1168.47 261.24 L1172.8 261.65 L1177.12 262.06 L1181.45 262.47 L1185.77 262.89 L1190.1 263.31 L1194.42 263.74 L1198.75 264.17 L1203.07 264.6 L1207.4 265.04 L1211.72 265.49 L1216.05 265.94 L1220.38 266.39 L1224.7 266.85 L1229.02 267.31 L1233.35 267.78 L1237.67 268.25 L1242 268.73 L1246.32 269.21 L1250.65 269.69 L1254.97 270.18 L1259.3 270.68 L1263.62 271.18 L1267.95 271.68 L1272.27 272.18 L1276.6 272.7 L1280.92 273.21 L1285.25 273.73 L1289.57 274.25 L1293.9 274.78 L1298.22 275.32 L1302.55 275.85 L1306.88 276.39 L1311.2 276.94 L1315.52 277.49 L1319.85 278.04 L1324.17 278.6 L1328.5 279.16 L1332.82 279.73 L1337.15 280.3 L1341.47 280.87 L1345.8 281.45 L1350.12 282.03 L1354.45 282.62 L1358.77 283.21 L1363.1 283.81 L1367.42 284.41 L1371.75 285.01 L1376.07 285.62 L1380.4 286.23 L1384.72 286.84 L1389.05 287.46 L1393.38 288.09 L1397.7 288.71 L1402.02 289.34 L1406.35 289.98 L1410.67 290.62 L1415 291.26 L1419.32 291.91 L1423.65 292.56 L1427.97 293.21 L1432.3 293.87 L1436.62 294.53 L1440.95 295.2 L1445.27 295.87 L1449.6 296.54 L1453.92 297.22 L1458.25 297.9 L1462.57 298.59 L1466.9 299.28 L1471.22 299.97 L1475.55 300.67 L1479.88 301.37 L1484.2 302.07 L1488.52 302.78 L1492.85 303.49 L1497.17 304.21 L1501.5 304.93 L1505.82 305.65 L1510.15 306.37 L1514.47 307.1 L1518.8 307.84 L1523.12 308.57 L1527.45 309.32 L1531.77 310.06 L1536.1 310.81" stroke="#000" stroke-width="3.3" fill="none" stroke-linejoin="round"/>
<rect x="1082" y="103.8" width="475.7" height="435.8" fill="none" stroke="#262626" stroke-width="1.5"/>
<text x="1125.6" y="515.3" font-size="35.6" fill="#000" text-anchor="middle">(c<tspan dx="2.7">)</tspan></text>
</g>
<g>
<clipPath id="cpd"><rect x="104.4" y="554" width="475.7" height="435.6"/></clipPath>
<rect x="104.4" y="554" width="475.7" height="435.6" fill="#ffffff"/>
<path d="M169.25 554V989.6M255.75 554V989.6M342.25 554V989.6M428.75 554V989.6M515.25 554V989.6M104.4 602.76H580.1M104.4 654.82H580.1M104.4 706.87H580.1M104.4 758.93H580.1M104.4 810.98H580.1M104.4 863.04H580.1M104.4 915.09H580.1M104.4 967.15H580.1" stroke="#dedede" stroke-width="0.9" fill="none"/>
<path d="M126 554V989.6M212.5 554V989.6M299 554V989.6M385.5 554V989.6M472 554V989.6M558.5 554V989.6M104.4 576.74H580.1M104.4 628.79H580.1M104.4 680.85H580.1M104.4 732.9H580.1M104.4 784.95H580.1M104.4 837.01H580.1M104.4 889.06H580.1M104.4 941.12H580.1" stroke="#c2c2c2" stroke-width="1.1" fill="none"/>
<path d="M126 687.44 L130.32 688.4 L134.65 689.36 L138.97 690.3 L143.3 691.23 L147.62 692.15 L151.95 693.05 L156.28 693.94 L160.6 694.82 L164.93 695.68 L169.25 696.53 L173.57 697.36 L177.9 698.17 L182.22 698.97 L186.55 699.75 L190.88 700.51 L195.2 701.25 L199.53 701.97 L203.85 702.67 L208.18 703.35 L212.5 704.01 L216.82 704.65 L221.15 705.27 L225.48 705.87 L229.8 706.45 L234.12 707 L238.45 707.53 L242.78 708.04 L247.1 708.52 L251.43 708.99 L255.75 709.42 L260.08 709.84 L264.4 710.23 L268.73 710.6 L273.05 710.94 L277.38 711.26 L281.7 711.56 L286.02 711.83 L290.35 712.08 L294.68 712.3 L299 712.5 L303.33 712.68 L307.65 712.83 L311.98 712.96 L316.3 713.07 L320.62 713.15 L324.95 713.21 L329.27 713.25 L333.6 713.26 L337.93 713.25 L342.25 713.22 L346.58 713.16 L350.9 713.09 L355.23 712.99 L359.55 712.87 L363.88 712.74 L368.2 712.58 L372.52 712.4 L376.85 712.2 L381.18 711.99 L385.5 711.75 L389.82 711.5 L394.15 711.23 L398.48 710.94 L402.8 710.64 L407.12 710.32 L411.45 709.98 L415.78 709.64 L420.1 709.27 L424.43 708.9 L428.75 708.51 L433.07 708.11 L437.4 707.7 L441.73 707.28 L446.05 706.85 L450.38 706.41 L454.7 705.97 L459.03 705.52 L463.35 705.06 L467.68 704.59 L472 704.13 L476.32 703.66 L480.65 703.18 L484.98 702.71 L489.3 702.23 L493.62 701.76 L497.95 701.29 L502.28 700.82 L506.6 700.36 L510.93 699.9 L515.25 699.44 L519.58 699 L523.9 698.56 L528.23 698.14 L532.55 697.72 L536.88 697.32 L541.2 696.93 L545.53 696.56 L549.85 696.2 L554.17 695.86 L558.5 695.54 L558.5 771.07 L554.17 770.65 L549.85 770.22 L545.53 769.78 L541.2 769.33 L536.88 768.87 L532.55 768.41 L528.23 767.94 L523.9 767.46 L519.58 766.98 L515.25 766.5 L510.93 766.02 L506.6 765.53 L502.28 765.05 L497.95 764.56 L493.62 764.08 L489.3 763.6 L484.98 763.12 L480.65 762.65 L476.32 762.18 L472 761.72 L467.68 761.26 L463.35 760.81 L459.03 760.37 L454.7 759.93 L450.38 759.51 L446.05 759.09 L441.73 758.69 L437.4 758.29 L433.07 757.91 L428.75 757.54 L424.43 757.18 L420.1 756.83 L415.78 756.5 L411.45 756.18 L407.12 755.88 L402.8 755.59 L398.48 755.32 L394.15 755.06 L389.82 754.82 L385.5 754.6 L381.18 754.39 L376.85 754.2 L372.52 754.03 L368.2 753.88 L363.88 753.75 L359.55 753.63 L355.23 753.54 L350.9 753.47 L346.58 753.41 L342.25 753.38 L337.93 753.36 L333.6 753.37 L329.27 753.4 L324.95 753.44 L320.62 753.51 L316.3 753.61 L311.98 753.72 L307.65 753.85 L303.33 754.01 L299 754.19 L294.68 754.39 L290.35 754.61 L286.02 754.85 L281.7 755.12 L277.38 755.41 L273.05 755.71 L268.73 756.05 L264.4 756.4 L260.08 756.77 L255.75 757.17 L251.43 757.59 L247.1 758.03 L242.78 758.49 L238.45 758.98 L234.12 759.48 L229.8 760 L225.48 760.55 L221.15 761.12 L216.82 761.7 L212.5 762.31 L208.18 762.94 L203.85 763.58 L199.53 764.25 L195.2 764.93 L190.88 765.63 L186.55 766.35 L182.22 767.09 L177.9 767.85 L173.57 768.62 L169.25 769.41 L164.93 770.22 L160.6 771.04 L156.28 771.87 L151.95 772.73 L147.62 773.59 L143.3 774.47 L138.97 775.37 L134.65 776.27 L130.32 777.19 L126 778.12Z" fill="#999999" fill-opacity="0.36"/>
<path d="M126 590.83 L130.32 594.28 L134.65 597.71 L138.97 601.12 L143.3 604.5 L147.62 607.87 L151.95 611.22 L156.28 614.54 L160.6 617.84 L164.93 621.12 L169.25 624.38 L173.57 627.62 L177.9 630.84 L182.22 634.03 L186.55 637.2 L190.88 640.35 L195.2 643.47 L199.53 646.57 L203.85 649.65 L208.18 652.7 L212.5 655.73 L216.82 658.73 L221.15 661.72 L225.48 664.67 L229.8 667.6 L234.12 670.51 L238.45 673.39 L242.78 676.25 L247.1 679.08 L251.43 681.88 L255.75 684.66 L260.08 687.41 L264.4 690.13 L268.73 692.83 L273.05 695.5 L277.38 698.15 L281.7 700.76 L286.02 703.35 L290.35 705.91 L294.68 708.45 L299 710.95 L303.33 713.43 L307.65 715.87 L311.98 718.29 L316.3 720.68 L320.62 723.04 L324.95 725.37 L329.27 727.67 L333.6 729.94 L337.93 732.18 L342.25 734.39 L346.58 736.57 L350.9 738.72 L355.23 740.84 L359.55 742.93 L363.88 744.99 L368.2 747.02 L372.52 749.02 L376.85 750.99 L381.18 752.93 L385.5 754.85 L389.82 756.73 L394.15 758.59 L398.48 760.42 L402.8 762.23 L407.12 764.01 L411.45 765.76 L415.78 767.48 L420.1 769.18 L424.43 770.85 L428.75 772.5 L433.07 774.12 L437.4 775.72 L441.73 777.29 L446.05 778.84 L450.38 780.36 L454.7 781.86 L459.03 783.33 L463.35 784.78 L467.68 786.21 L472 787.62 L476.32 789 L480.65 790.36 L484.98 791.7 L489.3 793.02 L493.62 794.31 L497.95 795.58 L502.28 796.84 L506.6 798.07 L510.93 799.28 L515.25 800.47 L519.58 801.64 L523.9 802.79 L528.23 803.92 L532.55 805.03 L536.88 806.13 L541.2 807.2 L545.53 808.26 L549.85 809.3 L554.17 810.32 L558.5 811.32 L558.5 875.53 L554.17 874.07 L549.85 872.58 L545.53 871.06 L541.2 869.52 L536.88 867.94 L532.55 866.34 L528.23 864.71 L523.9 863.05 L519.58 861.36 L515.25 859.65 L510.93 857.92 L506.6 856.16 L502.28 854.37 L497.95 852.56 L493.62 850.73 L489.3 848.87 L484.98 847 L480.65 845.09 L476.32 843.17 L472 841.23 L467.68 839.26 L463.35 837.28 L459.03 835.28 L454.7 833.25 L450.38 831.21 L446.05 829.15 L441.73 827.07 L437.4 824.98 L433.07 822.86 L428.75 820.74 L424.43 818.59 L420.1 816.43 L415.78 814.26 L411.45 812.07 L407.12 809.87 L402.8 807.65 L398.48 805.42 L394.15 803.18 L389.82 800.93 L385.5 798.66 L381.18 796.39 L376.85 794.1 L372.52 791.81 L368.2 789.5 L363.88 787.19 L359.55 784.86 L355.23 782.53 L350.9 780.19 L346.58 777.85 L342.25 775.5 L337.93 773.14 L333.6 770.78 L329.27 768.41 L324.95 766.05 L320.62 763.68 L316.3 761.32 L311.98 758.97 L307.65 756.62 L303.33 754.28 L299 751.95 L294.68 749.64 L290.35 747.34 L286.02 745.05 L281.7 742.79 L277.38 740.54 L273.05 738.32 L268.73 736.12 L264.4 733.95 L260.08 731.8 L255.75 729.68 L251.43 727.6 L247.1 725.55 L242.78 723.52 L238.45 721.52 L234.12 719.56 L229.8 717.62 L225.48 715.7 L221.15 713.81 L216.82 711.94 L212.5 710.1 L208.18 708.28 L203.85 706.48 L199.53 704.69 L195.2 702.92 L190.88 701.16 L186.55 699.4 L182.22 697.66 L177.9 695.91 L173.57 694.16 L169.25 692.41 L164.93 690.65 L160.6 688.88 L156.28 687.1 L151.95 685.3 L147.62 683.49 L143.3 681.66 L138.97 679.8 L134.65 677.91 L130.32 675.99 L126 674.04Z" fill="#999999" fill-opacity="0.36"/>
<path d="M177.9 711.4V772M174.1 711.4H181.7M174.1 772H181.7M260.08 711.6V770M256.28 711.6H263.88M256.28 770H263.88M286.02 713.4V765.4M282.22 713.4H289.82M282.22 765.4H289.82M389.82 739.2V788M386.02 739.2H393.62M386.02 788H393.62M519.58 706.9V745.9M515.78 706.9H523.38M515.78 745.9H523.38M177.9 660.5V716.7M174.1 660.5H181.7M174.1 716.7H181.7M260.08 673.4V722M256.28 673.4H263.88M256.28 722H263.88M286.02 690.5V732.9M282.22 690.5H289.82M282.22 732.9H289.82M389.82 769.2V810.2M386.02 769.2H393.62M386.02 810.2H393.62M519.58 826.2V872.6M515.78 826.2H523.38M515.78 872.6H523.38" stroke="#111" stroke-width="1.6" fill="none"/>
<circle cx="177.9" cy="741.7" r="5.7" fill="none" stroke="#111" stroke-width="1.15"/><circle cx="260.08" cy="740.8" r="5.7" fill="none" stroke="#111" stroke-width="1.15"/><circle cx="286.02" cy="739.4" r="5.7" fill="none" stroke="#111" stroke-width="1.15"/><circle cx="389.82" cy="763.6" r="5.7" fill="none" stroke="#111" stroke-width="1.15"/><circle cx="519.58" cy="726.4" r="5.7" fill="none" stroke="#111" stroke-width="1.15"/><circle cx="177.9" cy="688.6" r="6.0" fill="#0a0a0a"/><circle cx="260.08" cy="697.7" r="6.0" fill="#0a0a0a"/><circle cx="286.02" cy="711.7" r="6.0" fill="#0a0a0a"/><circle cx="389.82" cy="789.7" r="6.0" fill="#0a0a0a"/><circle cx="519.58" cy="849.4" r="6.0" fill="#0a0a0a"/>
<path d="M126 732.9H558.5" stroke="#000" stroke-width="3.3" stroke-dasharray="13.7 13.7" fill="none"/>
<path d="M126 629.96 L130.32 632.61 L134.65 635.26 L138.97 637.9 L143.3 640.54 L147.62 643.18 L151.95 645.82 L156.28 648.45 L160.6 651.08 L164.93 653.7 L169.25 656.32 L173.57 658.94 L177.9 661.55 L182.22 664.16 L186.55 666.76 L190.88 669.36 L195.2 671.95 L199.53 674.54 L203.85 677.12 L208.18 679.69 L212.5 682.26 L216.82 684.82 L221.15 687.37 L225.48 689.92 L229.8 692.46 L234.12 694.99 L238.45 697.51 L242.78 700.03 L247.1 702.54 L251.43 705.04 L255.75 707.53 L260.08 710.01 L264.4 712.48 L268.73 714.94 L273.05 717.4 L277.38 719.84 L281.7 722.27 L286.02 724.7 L290.35 727.11 L294.68 729.51 L299 731.9 L303.33 734.28 L307.65 736.64 L311.98 739 L316.3 741.34 L320.62 743.67 L324.95 745.99 L329.27 748.29 L333.6 750.59 L337.93 752.87 L342.25 755.13 L346.58 757.38 L350.9 759.62 L355.23 761.84 L359.55 764.05 L363.88 766.25 L368.2 768.43 L372.52 770.59 L376.85 772.74 L381.18 774.87 L385.5 776.99 L389.82 779.09 L394.15 781.17 L398.48 783.24 L402.8 785.29 L407.12 787.33 L411.45 789.34 L415.78 791.34 L420.1 793.32 L424.43 795.29 L428.75 797.23 L433.07 799.16 L437.4 801.07 L441.73 802.96 L446.05 804.83 L450.38 806.68 L454.7 808.51 L459.03 810.32 L463.35 812.11 L467.68 813.88 L472 815.63 L476.32 817.36 L480.65 819.06 L484.98 820.75 L489.3 822.41 L493.62 824.06 L497.95 825.68 L502.28 827.27 L506.6 828.85 L510.93 830.4 L515.25 831.93 L519.58 833.44 L523.9 834.92 L528.23 836.38 L532.55 837.82 L536.88 839.23 L541.2 840.62 L545.53 841.98 L549.85 843.32 L554.17 844.63 L558.5 845.92" stroke="#000" stroke-width="3.3" fill="none" stroke-linejoin="round"/>
<rect x="104.4" y="554" width="475.7" height="435.6" fill="none" stroke="#262626" stroke-width="1.5"/>
<text x="148" y="965.3" font-size="35.6" fill="#000" text-anchor="middle">(d<tspan dx="2.7">)</tspan></text>
</g>
<g>
<clipPath id="cpe"><rect x="593.3" y="554" width="475.7" height="435.6"/></clipPath>
<rect x="593.3" y="554" width="475.7" height="435.6" fill="#ffffff"/>
<path d="M658.25 554V989.6M744.75 554V989.6M831.25 554V989.6M917.75 554V989.6M1004.25 554V989.6M593.3 602.76H1069M593.3 654.82H1069M593.3 706.87H1069M593.3 758.93H1069M593.3 810.98H1069M593.3 863.04H1069M593.3 915.09H1069M593.3 967.15H1069" stroke="#dedede" stroke-width="0.9" fill="none"/>
<path d="M615 554V989.6M701.5 554V989.6M788 554V989.6M874.5 554V989.6M961 554V989.6M1047.5 554V989.6M593.3 576.74H1069M593.3 628.79H1069M593.3 680.85H1069M593.3 732.9H1069M593.3 784.95H1069M593.3 837.01H1069M593.3 889.06H1069M593.3 941.12H1069" stroke="#c2c2c2" stroke-width="1.1" fill="none"/>
<path d="M615 687.44 L619.33 688.4 L623.65 689.36 L627.98 690.3 L632.3 691.23 L636.62 692.15 L640.95 693.05 L645.27 693.94 L649.6 694.82 L653.92 695.68 L658.25 696.53 L662.58 697.36 L666.9 698.17 L671.23 698.97 L675.55 699.75 L679.88 700.51 L684.2 701.25 L688.52 701.97 L692.85 702.67 L697.17 703.35 L701.5 704.01 L705.83 704.65 L710.15 705.27 L714.48 705.87 L718.8 706.45 L723.12 707 L727.45 707.53 L731.77 708.04 L736.1 708.52 L740.42 708.99 L744.75 709.42 L749.08 709.84 L753.4 710.23 L757.73 710.6 L762.05 710.94 L766.38 711.26 L770.7 711.56 L775.02 711.83 L779.35 712.08 L783.67 712.3 L788 712.5 L792.33 712.68 L796.65 712.83 L800.98 712.96 L805.3 713.07 L809.62 713.15 L813.95 713.21 L818.27 713.25 L822.6 713.26 L826.92 713.25 L831.25 713.22 L835.58 713.16 L839.9 713.09 L844.23 712.99 L848.55 712.87 L852.88 712.74 L857.2 712.58 L861.52 712.4 L865.85 712.2 L870.17 711.99 L874.5 711.75 L878.83 711.5 L883.15 711.23 L887.48 710.94 L891.8 710.64 L896.12 710.32 L900.45 709.98 L904.78 709.64 L909.1 709.27 L913.42 708.9 L917.75 708.51 L922.08 708.11 L926.4 707.7 L930.73 707.28 L935.05 706.85 L939.38 706.41 L943.7 705.97 L948.03 705.52 L952.35 705.06 L956.67 704.59 L961 704.13 L965.33 703.66 L969.65 703.18 L973.98 702.71 L978.3 702.23 L982.62 701.76 L986.95 701.29 L991.28 700.82 L995.6 700.36 L999.92 699.9 L1004.25 699.44 L1008.58 699 L1012.9 698.56 L1017.23 698.14 L1021.55 697.72 L1025.88 697.32 L1030.2 696.93 L1034.53 696.56 L1038.85 696.2 L1043.17 695.86 L1047.5 695.54 L1047.5 771.07 L1043.17 770.65 L1038.85 770.22 L1034.53 769.78 L1030.2 769.33 L1025.88 768.87 L1021.55 768.41 L1017.23 767.94 L1012.9 767.46 L1008.58 766.98 L1004.25 766.5 L999.92 766.02 L995.6 765.53 L991.28 765.05 L986.95 764.56 L982.62 764.08 L978.3 763.6 L973.98 763.12 L969.65 762.65 L965.33 762.18 L961 761.72 L956.67 761.26 L952.35 760.81 L948.03 760.37 L943.7 759.93 L939.38 759.51 L935.05 759.09 L930.73 758.69 L926.4 758.29 L922.08 757.91 L917.75 757.54 L913.42 757.18 L909.1 756.83 L904.78 756.5 L900.45 756.18 L896.12 755.88 L891.8 755.59 L887.48 755.32 L883.15 755.06 L878.83 754.82 L874.5 754.6 L870.17 754.39 L865.85 754.2 L861.52 754.03 L857.2 753.88 L852.88 753.75 L848.55 753.63 L844.23 753.54 L839.9 753.47 L835.58 753.41 L831.25 753.38 L826.92 753.36 L822.6 753.37 L818.27 753.4 L813.95 753.44 L809.62 753.51 L805.3 753.61 L800.98 753.72 L796.65 753.85 L792.33 754.01 L788 754.19 L783.67 754.39 L779.35 754.61 L775.02 754.85 L770.7 755.12 L766.38 755.41 L762.05 755.71 L757.73 756.05 L753.4 756.4 L749.08 756.77 L744.75 757.17 L740.42 757.59 L736.1 758.03 L731.77 758.49 L727.45 758.98 L723.12 759.48 L718.8 760 L714.48 760.55 L710.15 761.12 L705.83 761.7 L701.5 762.31 L697.17 762.94 L692.85 763.58 L688.52 764.25 L684.2 764.93 L679.88 765.63 L675.55 766.35 L671.23 767.09 L666.9 767.85 L662.58 768.62 L658.25 769.41 L653.92 770.22 L649.6 771.04 L645.27 771.87 L640.95 772.73 L636.62 773.59 L632.3 774.47 L627.98 775.37 L623.65 776.27 L619.33 777.19 L615 778.12Z" fill="#999999" fill-opacity="0.36"/>
<path d="M615 574.3 L619.33 577.83 L623.65 581.36 L627.98 584.89 L632.3 588.42 L636.62 591.95 L640.95 595.48 L645.27 599.01 L649.6 602.54 L653.92 606.06 L658.25 609.58 L662.58 613.09 L666.9 616.6 L671.23 620.1 L675.55 623.6 L679.88 627.09 L684.2 630.56 L688.52 634.03 L692.85 637.49 L697.17 640.94 L701.5 644.37 L705.83 647.79 L710.15 651.2 L714.48 654.6 L718.8 657.97 L723.12 661.34 L727.45 664.68 L731.77 668.01 L736.1 671.32 L740.42 674.61 L744.75 677.88 L749.08 681.13 L753.4 684.36 L757.73 687.56 L762.05 690.75 L766.38 693.9 L770.7 697.04 L775.02 700.14 L779.35 703.23 L783.67 706.28 L788 709.31 L792.33 712.3 L796.65 715.27 L800.98 718.21 L805.3 721.11 L809.62 723.99 L813.95 726.83 L818.27 729.64 L822.6 732.41 L826.92 735.15 L831.25 737.85 L835.58 740.51 L839.9 743.14 L844.23 745.73 L848.55 748.29 L852.88 750.81 L857.2 753.3 L861.52 755.75 L865.85 758.17 L870.17 760.55 L874.5 762.9 L878.83 765.21 L883.15 767.5 L887.48 769.74 L891.8 771.96 L896.12 774.15 L900.45 776.3 L904.78 778.42 L909.1 780.51 L913.42 782.57 L917.75 784.6 L922.08 786.59 L926.4 788.56 L930.73 790.5 L935.05 792.41 L939.38 794.29 L943.7 796.14 L948.03 797.97 L952.35 799.76 L956.67 801.53 L961 803.27 L965.33 804.99 L969.65 806.68 L973.98 808.34 L978.3 809.97 L982.62 811.58 L986.95 813.17 L991.28 814.73 L995.6 816.26 L999.92 817.77 L1004.25 819.26 L1008.58 820.72 L1012.9 822.16 L1017.23 823.58 L1021.55 824.98 L1025.88 826.35 L1030.2 827.7 L1034.53 829.03 L1038.85 830.33 L1043.17 831.62 L1047.5 832.89 L1047.5 891.63 L1043.17 890.28 L1038.85 888.87 L1034.53 887.41 L1030.2 885.9 L1025.88 884.34 L1021.55 882.73 L1017.23 881.07 L1012.9 879.36 L1008.58 877.61 L1004.25 875.81 L999.92 873.96 L995.6 872.07 L991.28 870.14 L986.95 868.17 L982.62 866.16 L978.3 864.11 L973.98 862.02 L969.65 859.89 L965.33 857.73 L961 855.54 L956.67 853.31 L952.35 851.04 L948.03 848.75 L943.7 846.43 L939.38 844.07 L935.05 841.69 L930.73 839.28 L926.4 836.85 L922.08 834.39 L917.75 831.91 L913.42 829.4 L909.1 826.88 L904.78 824.33 L900.45 821.76 L896.12 819.18 L891.8 816.58 L887.48 813.96 L883.15 811.32 L878.83 808.68 L874.5 806.02 L870.17 803.35 L865.85 800.66 L861.52 797.97 L857.2 795.27 L852.88 792.57 L848.55 789.85 L844.23 787.13 L839.9 784.41 L835.58 781.69 L831.25 778.96 L826.92 776.23 L822.6 773.5 L818.27 770.78 L813.95 768.05 L809.62 765.33 L805.3 762.61 L800.98 759.9 L796.65 757.19 L792.33 754.49 L788 751.79 L783.67 749.1 L779.35 746.43 L775.02 743.76 L770.7 741.1 L766.38 738.46 L762.05 735.82 L757.73 733.2 L753.4 730.6 L749.08 728.01 L744.75 725.43 L740.42 722.88 L736.1 720.34 L731.77 717.81 L727.45 715.31 L723.12 712.81 L718.8 710.33 L714.48 707.87 L710.15 705.42 L705.83 702.99 L701.5 700.57 L697.17 698.16 L692.85 695.76 L688.52 693.38 L684.2 691.01 L679.88 688.65 L675.55 686.3 L671.23 683.96 L666.9 681.63 L662.58 679.31 L658.25 677 L653.92 674.7 L649.6 672.41 L645.27 670.13 L640.95 667.85 L636.62 665.59 L632.3 663.33 L627.98 661.07 L623.65 658.83 L619.33 656.58 L615 654.35Z" fill="#999999" fill-opacity="0.36"/>
<path d="M666.9 711.4V772M663.1 711.4H670.7M663.1 772H670.7M749.08 711.6V770M745.28 711.6H752.88M745.28 770H752.88M775.02 713.4V765.4M771.23 713.4H778.82M771.23 765.4H778.82M878.83 739.2V788M875.03 739.2H882.62M875.03 788H882.62M1008.58 706.9V745.9M1004.78 706.9H1012.38M1004.78 745.9H1012.38M666.9 621.8V683M663.1 621.8H670.7M663.1 683H670.7M749.08 713.7V770.1M745.28 713.7H752.88M745.28 770.1H752.88M775.02 678.6V723.4M771.23 678.6H778.82M771.23 723.4H778.82M878.83 786.5V822.3M875.03 786.5H882.62M875.03 822.3H882.62M1008.58 836.6V881.2M1004.78 836.6H1012.38M1004.78 881.2H1012.38" stroke="#111" stroke-width="1.6" fill="none"/>
<circle cx="666.9" cy="741.7" r="5.7" fill="none" stroke="#111" stroke-width="1.15"/><circle cx="749.08" cy="740.8" r="5.7" fill="none" stroke="#111" stroke-width="1.15"/><circle cx="775.02" cy="739.4" r="5.7" fill="none" stroke="#111" stroke-width="1.15"/><circle cx="878.83" cy="763.6" r="5.7" fill="none" stroke="#111" stroke-width="1.15"/><circle cx="1008.58" cy="726.4" r="5.7" fill="none" stroke="#111" stroke-width="1.15"/><circle cx="666.9" cy="652.4" r="6.0" fill="#0a0a0a"/><circle cx="749.08" cy="741.9" r="6.0" fill="#0a0a0a"/><circle cx="775.02" cy="701" r="6.0" fill="#0a0a0a"/><circle cx="878.83" cy="804.4" r="6.0" fill="#0a0a0a"/><circle cx="1008.58" cy="858.9" r="6.0" fill="#0a0a0a"/>
<path d="M615 732.9H1047.5" stroke="#000" stroke-width="3.3" stroke-dasharray="13.7 13.7" fill="none"/>
<path d="M615 611.01 L619.33 614.3 L623.65 617.58 L627.98 620.85 L632.3 624.11 L636.62 627.35 L640.95 630.59 L645.27 633.82 L649.6 637.04 L653.92 640.24 L658.25 643.44 L662.58 646.62 L666.9 649.8 L671.23 652.96 L675.55 656.1 L679.88 659.24 L684.2 662.37 L688.52 665.48 L692.85 668.58 L697.17 671.67 L701.5 674.74 L705.83 677.8 L710.15 680.85 L714.48 683.89 L718.8 686.91 L723.12 689.92 L727.45 692.91 L731.77 695.89 L736.1 698.86 L740.42 701.81 L744.75 704.75 L749.08 707.67 L753.4 710.58 L757.73 713.48 L762.05 716.36 L766.38 719.22 L770.7 722.07 L775.02 724.9 L779.35 727.72 L783.67 730.52 L788 733.3 L792.33 736.07 L796.65 738.83 L800.98 741.56 L805.3 744.28 L809.62 746.98 L813.95 749.67 L818.27 752.34 L822.6 754.99 L826.92 757.62 L831.25 760.24 L835.58 762.84 L839.9 765.42 L844.23 767.98 L848.55 770.52 L852.88 773.05 L857.2 775.56 L861.52 778.04 L865.85 780.51 L870.17 782.96 L874.5 785.39 L878.83 787.81 L883.15 790.2 L887.48 792.57 L891.8 794.92 L896.12 797.25 L900.45 799.57 L904.78 801.86 L909.1 804.13 L913.42 806.38 L917.75 808.61 L922.08 810.81 L926.4 813 L930.73 815.17 L935.05 817.31 L939.38 819.43 L943.7 821.53 L948.03 823.61 L952.35 825.67 L956.67 827.7 L961 829.71 L965.33 831.7 L969.65 833.67 L973.98 835.61 L978.3 837.53 L982.62 839.42 L986.95 841.3 L991.28 843.15 L995.6 844.97 L999.92 846.77 L1004.25 848.55 L1008.58 850.3 L1012.9 852.03 L1017.23 853.73 L1021.55 855.41 L1025.88 857.07 L1030.2 858.7 L1034.53 860.3 L1038.85 861.88 L1043.17 863.43 L1047.5 864.96" stroke="#000" stroke-width="3.3" fill="none" stroke-linejoin="round"/>
<rect x="593.3" y="554" width="475.7" height="435.6" fill="none" stroke="#262626" stroke-width="1.5"/>
<text x="637" y="965.3" font-size="35.6" fill="#000" text-anchor="middle">(e<tspan dx="2.7">)</tspan></text>
</g>
<g>
<clipPath id="cpf"><rect x="1082" y="554" width="475.7" height="435.6"/></clipPath>
<rect x="1082" y="554" width="475.7" height="435.6" fill="#ffffff"/>
<path d="M1146.85 554V989.6M1233.35 554V989.6M1319.85 554V989.6M1406.35 554V989.6M1492.85 554V989.6M1082 602.76H1557.7M1082 654.82H1557.7M1082 706.87H1557.7M1082 758.93H1557.7M1082 810.98H1557.7M1082 863.04H1557.7M1082 915.09H1557.7M1082 967.15H1557.7" stroke="#dedede" stroke-width="0.9" fill="none"/>
<path d="M1103.6 554V989.6M1190.1 554V989.6M1276.6 554V989.6M1363.1 554V989.6M1449.6 554V989.6M1536.1 554V989.6M1082 576.74H1557.7M1082 628.79H1557.7M1082 680.85H1557.7M1082 732.9H1557.7M1082 784.95H1557.7M1082 837.01H1557.7M1082 889.06H1557.7M1082 941.12H1557.7" stroke="#c2c2c2" stroke-width="1.1" fill="none"/>
<path d="M1103.6 687.44 L1107.92 688.4 L1112.25 689.36 L1116.57 690.3 L1120.9 691.23 L1125.22 692.15 L1129.55 693.05 L1133.88 693.94 L1138.2 694.82 L1142.52 695.68 L1146.85 696.53 L1151.17 697.36 L1155.5 698.17 L1159.82 698.97 L1164.15 699.75 L1168.47 700.51 L1172.8 701.25 L1177.12 701.97 L1181.45 702.67 L1185.77 703.35 L1190.1 704.01 L1194.42 704.65 L1198.75 705.27 L1203.07 705.87 L1207.4 706.45 L1211.72 707 L1216.05 707.53 L1220.38 708.04 L1224.7 708.52 L1229.02 708.99 L1233.35 709.42 L1237.67 709.84 L1242 710.23 L1246.32 710.6 L1250.65 710.94 L1254.97 711.26 L1259.3 711.56 L1263.62 711.83 L1267.95 712.08 L1272.27 712.3 L1276.6 712.5 L1280.92 712.68 L1285.25 712.83 L1289.57 712.96 L1293.9 713.07 L1298.22 713.15 L1302.55 713.21 L1306.88 713.25 L1311.2 713.26 L1315.52 713.25 L1319.85 713.22 L1324.17 713.16 L1328.5 713.09 L1332.82 712.99 L1337.15 712.87 L1341.47 712.74 L1345.8 712.58 L1350.12 712.4 L1354.45 712.2 L1358.77 711.99 L1363.1 711.75 L1367.42 711.5 L1371.75 711.23 L1376.07 710.94 L1380.4 710.64 L1384.72 710.32 L1389.05 709.98 L1393.38 709.64 L1397.7 709.27 L1402.02 708.9 L1406.35 708.51 L1410.67 708.11 L1415 707.7 L1419.32 707.28 L1423.65 706.85 L1427.97 706.41 L1432.3 705.97 L1436.62 705.52 L1440.95 705.06 L1445.27 704.59 L1449.6 704.13 L1453.92 703.66 L1458.25 703.18 L1462.57 702.71 L1466.9 702.23 L1471.22 701.76 L1475.55 701.29 L1479.88 700.82 L1484.2 700.36 L1488.52 699.9 L1492.85 699.44 L1497.17 699 L1501.5 698.56 L1505.82 698.14 L1510.15 697.72 L1514.47 697.32 L1518.8 696.93 L1523.12 696.56 L1527.45 696.2 L1531.77 695.86 L1536.1 695.54 L1536.1 771.07 L1531.77 770.65 L1527.45 770.22 L1523.12 769.78 L1518.8 769.33 L1514.47 768.87 L1510.15 768.41 L1505.82 767.94 L1501.5 767.46 L1497.17 766.98 L1492.85 766.5 L1488.52 766.02 L1484.2 765.53 L1479.88 765.05 L1475.55 764.56 L1471.22 764.08 L1466.9 763.6 L1462.57 763.12 L1458.25 762.65 L1453.92 762.18 L1449.6 761.72 L1445.27 761.26 L1440.95 760.81 L1436.62 760.37 L1432.3 759.93 L1427.97 759.51 L1423.65 759.09 L1419.32 758.69 L1415 758.29 L1410.67 757.91 L1406.35 757.54 L1402.02 757.18 L1397.7 756.83 L1393.38 756.5 L1389.05 756.18 L1384.72 755.88 L1380.4 755.59 L1376.07 755.32 L1371.75 755.06 L1367.42 754.82 L1363.1 754.6 L1358.77 754.39 L1354.45 754.2 L1350.12 754.03 L1345.8 753.88 L1341.47 753.75 L1337.15 753.63 L1332.82 753.54 L1328.5 753.47 L1324.17 753.41 L1319.85 753.38 L1315.52 753.36 L1311.2 753.37 L1306.88 753.4 L1302.55 753.44 L1298.22 753.51 L1293.9 753.61 L1289.57 753.72 L1285.25 753.85 L1280.92 754.01 L1276.6 754.19 L1272.27 754.39 L1267.95 754.61 L1263.62 754.85 L1259.3 755.12 L1254.97 755.41 L1250.65 755.71 L1246.32 756.05 L1242 756.4 L1237.67 756.77 L1233.35 757.17 L1229.02 757.59 L1224.7 758.03 L1220.38 758.49 L1216.05 758.98 L1211.72 759.48 L1207.4 760 L1203.07 760.55 L1198.75 761.12 L1194.42 761.7 L1190.1 762.31 L1185.77 762.94 L1181.45 763.58 L1177.12 764.25 L1172.8 764.93 L1168.47 765.63 L1164.15 766.35 L1159.82 767.09 L1155.5 767.85 L1151.17 768.62 L1146.85 769.41 L1142.52 770.22 L1138.2 771.04 L1133.88 771.87 L1129.55 772.73 L1125.22 773.59 L1120.9 774.47 L1116.57 775.37 L1112.25 776.27 L1107.92 777.19 L1103.6 778.12Z" fill="#999999" fill-opacity="0.36"/>
<path d="M1103.6 693.19 L1107.92 694.54 L1112.25 695.89 L1116.57 697.22 L1120.9 698.54 L1125.22 699.85 L1129.55 701.14 L1133.88 702.42 L1138.2 703.69 L1142.52 704.94 L1146.85 706.17 L1151.17 707.39 L1155.5 708.59 L1159.82 709.77 L1164.15 710.93 L1168.47 712.08 L1172.8 713.2 L1177.12 714.31 L1181.45 715.39 L1185.77 716.45 L1190.1 717.48 L1194.42 718.5 L1198.75 719.49 L1203.07 720.45 L1207.4 721.39 L1211.72 722.3 L1216.05 723.19 L1220.38 724.05 L1224.7 724.88 L1229.02 725.68 L1233.35 726.45 L1237.67 727.19 L1242 727.9 L1246.32 728.58 L1250.65 729.23 L1254.97 729.85 L1259.3 730.45 L1263.62 731.01 L1267.95 731.54 L1272.27 732.05 L1276.6 732.53 L1280.92 732.98 L1285.25 733.4 L1289.57 733.8 L1293.9 734.16 L1298.22 734.5 L1302.55 734.82 L1306.88 735.11 L1311.2 735.37 L1315.52 735.6 L1319.85 735.81 L1324.17 736 L1328.5 736.15 L1332.82 736.29 L1337.15 736.4 L1341.47 736.49 L1345.8 736.57 L1350.12 736.62 L1354.45 736.65 L1358.77 736.66 L1363.1 736.66 L1367.42 736.64 L1371.75 736.6 L1376.07 736.55 L1380.4 736.49 L1384.72 736.42 L1389.05 736.33 L1393.38 736.23 L1397.7 736.13 L1402.02 736.01 L1406.35 735.89 L1410.67 735.76 L1415 735.63 L1419.32 735.49 L1423.65 735.35 L1427.97 735.2 L1432.3 735.05 L1436.62 734.9 L1440.95 734.75 L1445.27 734.61 L1449.6 734.46 L1453.92 734.32 L1458.25 734.17 L1462.57 734.04 L1466.9 733.91 L1471.22 733.79 L1475.55 733.67 L1479.88 733.56 L1484.2 733.46 L1488.52 733.38 L1492.85 733.3 L1497.17 733.24 L1501.5 733.18 L1505.82 733.15 L1510.15 733.12 L1514.47 733.12 L1518.8 733.13 L1523.12 733.16 L1527.45 733.2 L1531.77 733.27 L1536.1 733.36 L1536.1 807.96 L1531.77 807.2 L1527.45 806.44 L1523.12 805.68 L1518.8 804.92 L1514.47 804.17 L1510.15 803.41 L1505.82 802.66 L1501.5 801.9 L1497.17 801.15 L1492.85 800.41 L1488.52 799.66 L1484.2 798.92 L1479.88 798.18 L1475.55 797.45 L1471.22 796.72 L1466.9 795.99 L1462.57 795.28 L1458.25 794.56 L1453.92 793.86 L1449.6 793.15 L1445.27 792.46 L1440.95 791.78 L1436.62 791.1 L1432.3 790.43 L1427.97 789.77 L1423.65 789.11 L1419.32 788.47 L1415 787.84 L1410.67 787.21 L1406.35 786.6 L1402.02 786 L1397.7 785.41 L1393.38 784.83 L1389.05 784.26 L1384.72 783.7 L1380.4 783.16 L1376.07 782.63 L1371.75 782.12 L1367.42 781.62 L1363.1 781.13 L1358.77 780.66 L1354.45 780.2 L1350.12 779.76 L1345.8 779.34 L1341.47 778.93 L1337.15 778.54 L1332.82 778.17 L1328.5 777.81 L1324.17 777.47 L1319.85 777.15 L1315.52 776.85 L1311.2 776.57 L1306.88 776.3 L1302.55 776.06 L1298.22 775.83 L1293.9 775.63 L1289.57 775.44 L1285.25 775.27 L1280.92 775.12 L1276.6 774.99 L1272.27 774.87 L1267.95 774.78 L1263.62 774.7 L1259.3 774.64 L1254.97 774.6 L1250.65 774.58 L1246.32 774.58 L1242 774.6 L1237.67 774.63 L1233.35 774.69 L1229.02 774.76 L1224.7 774.85 L1220.38 774.96 L1216.05 775.09 L1211.72 775.23 L1207.4 775.4 L1203.07 775.58 L1198.75 775.78 L1194.42 776 L1190.1 776.24 L1185.77 776.5 L1181.45 776.77 L1177.12 777.07 L1172.8 777.38 L1168.47 777.71 L1164.15 778.06 L1159.82 778.42 L1155.5 778.81 L1151.17 779.21 L1146.85 779.64 L1142.52 780.08 L1138.2 780.53 L1133.88 781.01 L1129.55 781.5 L1125.22 782.02 L1120.9 782.55 L1116.57 783.1 L1112.25 783.66 L1107.92 784.25 L1103.6 784.85Z" fill="#999999" fill-opacity="0.36"/>
<path d="M1155.5 711.4V772M1151.7 711.4H1159.3M1151.7 772H1159.3M1237.67 711.6V770M1233.88 711.6H1241.47M1233.88 770H1241.47M1263.62 713.4V765.4M1259.83 713.4H1267.42M1259.83 765.4H1267.42M1367.42 739.2V788M1363.62 739.2H1371.22M1363.62 788H1371.22M1497.17 706.9V745.9M1493.38 706.9H1500.97M1493.38 745.9H1500.97M1155.5 705.8V762.2M1151.7 705.8H1159.3M1151.7 762.2H1159.3M1237.67 736V793.8M1233.88 736H1241.47M1233.88 793.8H1241.47M1263.62 721.6V774.2M1259.83 721.6H1267.42M1259.83 774.2H1267.42M1367.42 798.1V849.1M1363.62 798.1H1371.22M1363.62 849.1H1371.22M1497.17 718.9V765.5M1493.38 718.9H1500.97M1493.38 765.5H1500.97" stroke="#111" stroke-width="1.6" fill="none"/>
<circle cx="1155.5" cy="741.7" r="5.7" fill="none" stroke="#111" stroke-width="1.15"/><circle cx="1237.67" cy="740.8" r="5.7" fill="none" stroke="#111" stroke-width="1.15"/><circle cx="1263.62" cy="739.4" r="5.7" fill="none" stroke="#111" stroke-width="1.15"/><circle cx="1367.42" cy="763.6" r="5.7" fill="none" stroke="#111" stroke-width="1.15"/><circle cx="1497.17" cy="726.4" r="5.7" fill="none" stroke="#111" stroke-width="1.15"/><circle cx="1155.5" cy="734" r="6.0" fill="#0a0a0a"/><circle cx="1237.67" cy="764.9" r="6.0" fill="#0a0a0a"/><circle cx="1263.62" cy="747.9" r="6.0" fill="#0a0a0a"/><circle cx="1367.42" cy="823.6" r="6.0" fill="#0a0a0a"/><circle cx="1497.17" cy="742.2" r="6.0" fill="#0a0a0a"/>
<path d="M1103.6 732.9H1536.1" stroke="#000" stroke-width="3.3" stroke-dasharray="13.7 13.7" fill="none"/>
<path d="M1103.6 739.25 L1107.92 739.66 L1112.25 740.06 L1116.57 740.47 L1120.9 740.87 L1125.22 741.26 L1129.55 741.66 L1133.88 742.05 L1138.2 742.44 L1142.52 742.83 L1146.85 743.22 L1151.17 743.6 L1155.5 743.98 L1159.82 744.36 L1164.15 744.74 L1168.47 745.12 L1172.8 745.49 L1177.12 745.86 L1181.45 746.23 L1185.77 746.59 L1190.1 746.96 L1194.42 747.32 L1198.75 747.68 L1203.07 748.04 L1207.4 748.39 L1211.72 748.75 L1216.05 749.1 L1220.38 749.45 L1224.7 749.79 L1229.02 750.14 L1233.35 750.48 L1237.67 750.82 L1242 751.16 L1246.32 751.5 L1250.65 751.83 L1254.97 752.16 L1259.3 752.5 L1263.62 752.82 L1267.95 753.15 L1272.27 753.48 L1276.6 753.8 L1280.92 754.12 L1285.25 754.44 L1289.57 754.76 L1293.9 755.07 L1298.22 755.39 L1302.55 755.7 L1306.88 756.01 L1311.2 756.31 L1315.52 756.62 L1319.85 756.92 L1324.17 757.23 L1328.5 757.53 L1332.82 757.83 L1337.15 758.12 L1341.47 758.42 L1345.8 758.71 L1350.12 759 L1354.45 759.29 L1358.77 759.58 L1363.1 759.87 L1367.42 760.15 L1371.75 760.44 L1376.07 760.72 L1380.4 761 L1384.72 761.28 L1389.05 761.55 L1393.38 761.83 L1397.7 762.1 L1402.02 762.37 L1406.35 762.64 L1410.67 762.91 L1415 763.18 L1419.32 763.44 L1423.65 763.71 L1427.97 763.97 L1432.3 764.23 L1436.62 764.49 L1440.95 764.75 L1445.27 765.01 L1449.6 765.26 L1453.92 765.51 L1458.25 765.77 L1462.57 766.02 L1466.9 766.26 L1471.22 766.51 L1475.55 766.76 L1479.88 767 L1484.2 767.25 L1488.52 767.49 L1492.85 767.73 L1497.17 767.97 L1501.5 768.21 L1505.82 768.44 L1510.15 768.68 L1514.47 768.91 L1518.8 769.15 L1523.12 769.38 L1527.45 769.61 L1531.77 769.84 L1536.1 770.06" stroke="#000" stroke-width="3.3" fill="none" stroke-linejoin="round"/>
<rect x="1082" y="554" width="475.7" height="435.6" fill="none" stroke="#262626" stroke-width="1.5"/>
<text x="1125.6" y="965.3" font-size="35.6" fill="#000" text-anchor="middle">(f<tspan dx="2.7">)</tspan></text>
</g>
<rect x="103.7" y="64" width="477.1" height="40.2" fill="#000"/>
<text x="342.25" y="90.9" font-size="20.6" fill="#fff" text-anchor="middle">AI Recommendation Only</text>
<rect x="592.6" y="64" width="477.1" height="40.2" fill="#000"/>
<text x="831.15" y="90.9" font-size="20.6" fill="#fff" text-anchor="middle">AI Recommendation + Explanation</text>
<rect x="1081.3" y="64" width="477.1" height="40.2" fill="#000"/>
<text x="1319.85" y="90.9" font-size="20.6" fill="#fff" text-anchor="middle">AI Explanation Only</text>
<rect x="1557.7" y="103.4" width="39.5" height="436.7" fill="#000"/>
<text transform="translate(1570.9 321.7) rotate(90)" font-size="20.6" fill="#fff" text-anchor="middle">Emergency Patients</text>
<rect x="1557.7" y="553.6" width="39.5" height="436.5" fill="#000"/>
<text transform="translate(1570.9 771.8) rotate(90)" font-size="20.6" fill="#fff" text-anchor="middle">Non-Emergency Patients</text>
<text x="91.8" y="134.84" font-size="20.25" fill="#222222" text-anchor="end">150%</text>
<text x="91.8" y="186.89" font-size="20.25" fill="#222222" text-anchor="end">100%</text>
<text x="91.8" y="238.95" font-size="20.25" fill="#222222" text-anchor="end">50%</text>
<text x="91.8" y="291" font-size="20.25" fill="#222222" text-anchor="end">0%</text>
<text x="91.8" y="343.06" font-size="20.25" fill="#222222" text-anchor="end">-50%</text>
<text x="91.8" y="395.11" font-size="20.25" fill="#222222" text-anchor="end">-100%</text>
<text x="91.8" y="447.16" font-size="20.25" fill="#222222" text-anchor="end">-150%</text>
<text x="91.8" y="499.22" font-size="20.25" fill="#222222" text-anchor="end">-200%</text>
<text x="91.8" y="584.63" font-size="20.25" fill="#222222" text-anchor="end">150%</text>
<text x="91.8" y="636.69" font-size="20.25" fill="#222222" text-anchor="end">100%</text>
<text x="91.8" y="688.75" font-size="20.25" fill="#222222" text-anchor="end">50%</text>
<text x="91.8" y="740.8" font-size="20.25" fill="#222222" text-anchor="end">0%</text>
<text x="91.8" y="792.85" font-size="20.25" fill="#222222" text-anchor="end">-50%</text>
<text x="91.8" y="844.91" font-size="20.25" fill="#222222" text-anchor="end">-100%</text>
<text x="91.8" y="896.96" font-size="20.25" fill="#222222" text-anchor="end">-150%</text>
<text x="91.8" y="949.02" font-size="20.25" fill="#222222" text-anchor="end">-200%</text>
<text x="125.3" y="1016.6" font-size="20.25" fill="#222222" text-anchor="middle">0%</text>
<text x="211.8" y="1016.6" font-size="20.25" fill="#222222" text-anchor="middle">20%</text>
<text x="298.3" y="1016.6" font-size="20.25" fill="#222222" text-anchor="middle">40%</text>
<text x="384.8" y="1016.6" font-size="20.25" fill="#222222" text-anchor="middle">60%</text>
<text x="471.3" y="1016.6" font-size="20.25" fill="#222222" text-anchor="middle">80%</text>
<text x="557.8" y="1016.6" font-size="20.25" fill="#222222" text-anchor="middle">100%</text>
<text x="614.3" y="1016.6" font-size="20.25" fill="#222222" text-anchor="middle">0%</text>
<text x="700.8" y="1016.6" font-size="20.25" fill="#222222" text-anchor="middle">20%</text>
<text x="787.3" y="1016.6" font-size="20.25" fill="#222222" text-anchor="middle">40%</text>
<text x="873.8" y="1016.6" font-size="20.25" fill="#222222" text-anchor="middle">60%</text>
<text x="960.3" y="1016.6" font-size="20.25" fill="#222222" text-anchor="middle">80%</text>
<text x="1046.8" y="1016.6" font-size="20.25" fill="#222222" text-anchor="middle">100%</text>
<text x="1102.9" y="1016.6" font-size="20.25" fill="#222222" text-anchor="middle">0%</text>
<text x="1189.4" y="1016.6" font-size="20.25" fill="#222222" text-anchor="middle">20%</text>
<text x="1275.9" y="1016.6" font-size="20.25" fill="#222222" text-anchor="middle">40%</text>
<text x="1362.4" y="1016.6" font-size="20.25" fill="#222222" text-anchor="middle">60%</text>
<text x="1448.9" y="1016.6" font-size="20.25" fill="#222222" text-anchor="middle">80%</text>
<text x="1535.4" y="1016.6" font-size="20.25" fill="#222222" text-anchor="middle">100%</text>
<path d="M97.8 126.94H104.4M97.8 178.99H104.4M97.8 231.05H104.4M97.8 283.1H104.4M97.8 335.16H104.4M97.8 387.21H104.4M97.8 439.26H104.4M97.8 491.32H104.4M97.8 576.74H104.4M97.8 628.79H104.4M97.8 680.85H104.4M97.8 732.9H104.4M97.8 784.95H104.4M97.8 837.01H104.4M97.8 889.06H104.4M97.8 941.12H104.4M126 989.6V996.2M212.5 989.6V996.2M299 989.6V996.2M385.5 989.6V996.2M472 989.6V996.2M558.5 989.6V996.2M615 989.6V996.2M701.5 989.6V996.2M788 989.6V996.2M874.5 989.6V996.2M961 989.6V996.2M1047.5 989.6V996.2M1103.6 989.6V996.2M1190.1 989.6V996.2M1276.6 989.6V996.2M1363.1 989.6V996.2M1449.6 989.6V996.2M1536.1 989.6V996.2" stroke="#262626" stroke-width="1.4" fill="none"/>
<text x="831.2" y="1045.8" font-size="25.9" fill="#000" text-anchor="middle">Magnitude of AI Error</text>
<text transform="translate(21.3 546.4) rotate(-90)" font-size="25.9" fill="#000" text-anchor="middle">Impacts of AI Augmentation on Human-AI Performance</text>
<text x="368.2" y="21.5" font-size="25.9" fill="#000">Experimental Condition</text>
<path d="M657 11.6H730" stroke="#000" stroke-width="3.3" fill="none"/>
<circle cx="693.5" cy="11.6" r="6.3" fill="#000"/>
<text x="751.3" y="19.6" font-size="20.8" fill="#000">With AI Augmentation</text>
<path d="M972.3 11.6H1045.3" stroke="#000" stroke-width="3.3" stroke-dasharray="13.7 13.7" fill="none"/>
<circle cx="1008.8" cy="11.6" r="6" fill="none" stroke="#000" stroke-width="1.2"/>
<text x="1067.4" y="19.6" font-size="20.8" fill="#000">Without AI Augmentation</text>
</svg>
</body>
</html>
